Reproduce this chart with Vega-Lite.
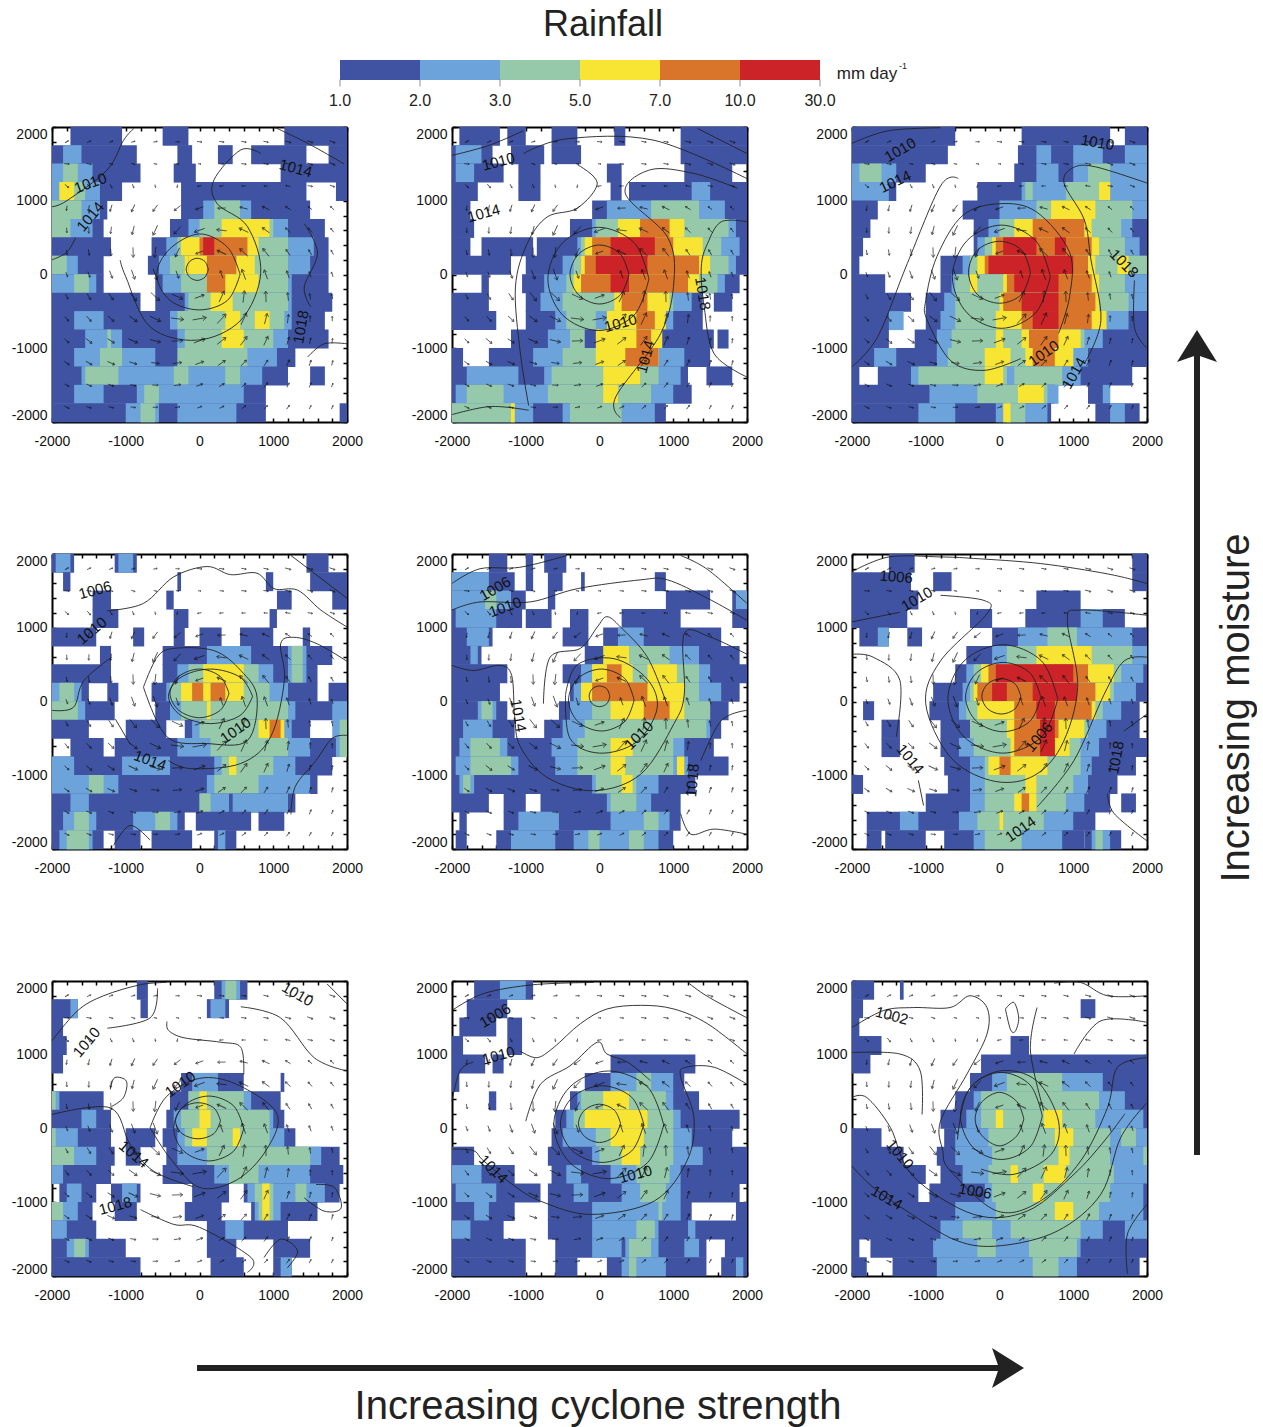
{"$schema":"https://vega.github.io/schema/vega-lite/v6.json","background":"white","padding":{"left":11,"top":7,"right":0,"bottom":0},
"config":{"view":{"stroke":null},"font":"Liberation Sans","axis":{"title":null,"grid":false,"domainWidth":2,"domainColor":"#000","tickColor":"#000","tickSize":-4,"tickWidth":1.5,"labelFontSize":14,"labelColor":"#111","labelOverlap":false,"zindex":1},"axisX":{"labelPadding":16,"labelFlush":false},"axisY":{"labelPadding":9}},
"datasets":{
"w":[{"x":-1800,"y":1800,"a":60,"s":16},{"x":-1200,"y":1800,"a":70,"s":16},{"x":-600,"y":1800,"a":80,"s":16},{"x":0,"y":1800,"a":95,"s":25},{"x":600,"y":1800,"a":100,"s":25},{"x":1200,"y":1800,"a":105,"s":36},{"x":1800,"y":1800,"a":110,"s":36},{"x":-1500,"y":1500,"a":100,"s":25},{"x":-900,"y":1500,"a":110,"s":16},{"x":-300,"y":1500,"a":100,"s":9},{"x":300,"y":1500,"a":95,"s":16},{"x":900,"y":1500,"a":100,"s":25},{"x":1500,"y":1500,"a":110,"s":36},{"x":-1800,"y":1200,"a":130,"s":25},{"x":-1200,"y":1200,"a":150,"s":16},{"x":-600,"y":1200,"a":170,"s":9},{"x":0,"y":1200,"a":-100,"s":16},{"x":600,"y":1200,"a":-90,"s":16},{"x":1200,"y":1200,"a":-80,"s":25},{"x":1800,"y":1200,"a":110,"s":25},{"x":-1500,"y":900,"a":-169,"s":36},{"x":-900,"y":900,"a":-155,"s":64},{"x":-300,"y":900,"a":-128,"s":64},{"x":300,"y":900,"a":-92,"s":64},{"x":900,"y":900,"a":-65,"s":64},{"x":1500,"y":900,"a":-51,"s":25},{"x":-1800,"y":600,"a":178,"s":25},{"x":-1200,"y":600,"a":-173,"s":49},{"x":-600,"y":600,"a":-155,"s":121},{"x":0,"y":600,"a":-110,"s":121},{"x":600,"y":600,"a":-65,"s":100},{"x":1200,"y":600,"a":-47,"s":49},{"x":1800,"y":600,"a":-38,"s":25},{"x":-1500,"y":300,"a":171,"s":36},{"x":-900,"y":300,"a":178,"s":100},{"x":-300,"y":300,"a":-155,"s":100},{"x":300,"y":300,"a":-65,"s":100},{"x":900,"y":300,"a":-38,"s":100},{"x":1500,"y":300,"a":-31,"s":36},{"x":-1800,"y":0,"a":160,"s":25},{"x":-1200,"y":0,"a":160,"s":64},{"x":-600,"y":0,"a":160,"s":144},{"x":600,"y":0,"a":-20,"s":121},{"x":1200,"y":0,"a":-20,"s":64},{"x":1800,"y":0,"a":-20,"s":25},{"x":-1500,"y":-300,"a":149,"s":49},{"x":-900,"y":-300,"a":142,"s":121},{"x":-300,"y":-300,"a":115,"s":144},{"x":300,"y":-300,"a":25,"s":144},{"x":900,"y":-300,"a":-2,"s":121},{"x":1500,"y":-300,"a":-9,"s":36},{"x":-1800,"y":-600,"a":142,"s":36},{"x":-1200,"y":-600,"a":133,"s":64},{"x":-600,"y":-600,"a":115,"s":144},{"x":0,"y":-600,"a":80,"s":196},{"x":600,"y":-600,"a":25,"s":169},{"x":1200,"y":-600,"a":7,"s":81},{"x":1800,"y":-600,"a":-2,"s":25},{"x":-1500,"y":-900,"a":129,"s":64},{"x":-900,"y":-900,"a":115,"s":100},{"x":-300,"y":-900,"a":88,"s":121},{"x":300,"y":-900,"a":52,"s":121},{"x":900,"y":-900,"a":25,"s":100},{"x":1500,"y":-900,"a":11,"s":36},{"x":-1800,"y":-1200,"a":126,"s":36},{"x":-1200,"y":-1200,"a":115,"s":64},{"x":-600,"y":-1200,"a":97,"s":64},{"x":0,"y":-1200,"a":70,"s":81},{"x":600,"y":-1200,"a":43,"s":64},{"x":1200,"y":-1200,"a":25,"s":49},{"x":1800,"y":-1200,"a":14,"s":25},{"x":-1500,"y":-1500,"a":115,"s":36},{"x":-900,"y":-1500,"a":101,"s":36},{"x":-300,"y":-1500,"a":81,"s":49},{"x":300,"y":-1500,"a":59,"s":36},{"x":900,"y":-1500,"a":39,"s":36},{"x":1500,"y":-1500,"a":25,"s":25},{"x":-1800,"y":-1800,"a":115,"s":25},{"x":-1200,"y":-1800,"a":104,"s":25},{"x":-600,"y":-1800,"a":88,"s":25},{"x":0,"y":-1800,"a":70,"s":25},{"x":600,"y":-1800,"a":52,"s":25},{"x":1200,"y":-1800,"a":36,"s":25},{"x":1800,"y":-1800,"a":25,"s":16},{"x":-1500,"y":1800,"a":65,"s":16},{"x":-900,"y":1800,"a":75,"s":16},{"x":-300,"y":1800,"a":90,"s":16},{"x":300,"y":1800,"a":98,"s":25},{"x":900,"y":1800,"a":102,"s":25},{"x":1500,"y":1800,"a":108,"s":36},{"x":-1800,"y":1500,"a":95,"s":25},{"x":-1200,"y":1500,"a":105,"s":16},{"x":-600,"y":1500,"a":105,"s":9},{"x":0,"y":1500,"a":95,"s":9},{"x":600,"y":1500,"a":98,"s":25},{"x":1200,"y":1500,"a":105,"s":36},{"x":1800,"y":1500,"a":112,"s":36},{"x":-1500,"y":1200,"a":140,"s":25},{"x":-900,"y":1200,"a":160,"s":16},{"x":-300,"y":1200,"a":-170,"s":9},{"x":300,"y":1200,"a":-95,"s":16},{"x":900,"y":1200,"a":-85,"s":16},{"x":1500,"y":1200,"a":100,"s":25},{"x":-1800,"y":900,"a":-173,"s":25},{"x":-1200,"y":900,"a":-163,"s":49},{"x":-600,"y":900,"a":-144,"s":64},{"x":0,"y":900,"a":-110,"s":64},{"x":600,"y":900,"a":-76,"s":64},{"x":1200,"y":900,"a":-57,"s":36},{"x":1800,"y":900,"a":-47,"s":25},{"x":-1500,"y":600,"a":-178,"s":36},{"x":-900,"y":600,"a":-166,"s":81},{"x":-300,"y":600,"a":-137,"s":100},{"x":300,"y":600,"a":-83,"s":100},{"x":900,"y":600,"a":-54,"s":81},{"x":1500,"y":600,"a":-42,"s":36},{"x":-1800,"y":300,"a":169,"s":25},{"x":-1200,"y":300,"a":174,"s":49},{"x":-600,"y":300,"a":-173,"s":121},{"x":0,"y":300,"a":-110,"s":64},{"x":600,"y":300,"a":-47,"s":121},{"x":1200,"y":300,"a":-34,"s":49},{"x":1800,"y":300,"a":-29,"s":25},{"x":-1500,"y":0,"a":160,"s":36},{"x":-900,"y":0,"a":160,"s":100},{"x":-300,"y":0,"a":160,"s":64},{"x":300,"y":0,"a":-20,"s":64},{"x":900,"y":0,"a":-20,"s":100},{"x":1500,"y":0,"a":-20,"s":36},{"x":-1800,"y":-300,"a":151,"s":25},{"x":-1200,"y":-300,"a":146,"s":64},{"x":-600,"y":-300,"a":133,"s":144},{"x":0,"y":-300,"a":70,"s":100},{"x":600,"y":-300,"a":7,"s":144},{"x":1200,"y":-300,"a":-6,"s":64},{"x":1800,"y":-300,"a":-11,"s":25},{"x":-1500,"y":-600,"a":138,"s":49},{"x":-900,"y":-600,"a":126,"s":100},{"x":-300,"y":-600,"a":97,"s":169},{"x":300,"y":-600,"a":43,"s":169},{"x":900,"y":-600,"a":14,"s":121},{"x":1500,"y":-600,"a":2,"s":36},{"x":-1800,"y":-900,"a":133,"s":36},{"x":-1200,"y":-900,"a":123,"s":64},{"x":-600,"y":-900,"a":104,"s":121},{"x":0,"y":-900,"a":70,"s":144},{"x":600,"y":-900,"a":36,"s":121},{"x":1200,"y":-900,"a":17,"s":64},{"x":1800,"y":-900,"a":7,"s":25},{"x":-1500,"y":-1200,"a":121,"s":49},{"x":-900,"y":-1200,"a":107,"s":64},{"x":-300,"y":-1200,"a":84,"s":81},{"x":300,"y":-1200,"a":56,"s":81},{"x":900,"y":-1200,"a":33,"s":49},{"x":1500,"y":-1200,"a":19,"s":36},{"x":-1800,"y":-1500,"a":120,"s":25},{"x":-1200,"y":-1500,"a":109,"s":36},{"x":-600,"y":-1500,"a":92,"s":36},{"x":0,"y":-1500,"a":70,"s":49},{"x":600,"y":-1500,"a":48,"s":36},{"x":1200,"y":-1500,"a":31,"s":25},{"x":1800,"y":-1500,"a":20,"s":16},{"x":-1500,"y":-1800,"a":110,"s":25},{"x":-900,"y":-1800,"a":97,"s":25},{"x":-300,"y":-1800,"a":79,"s":25},{"x":300,"y":-1800,"a":61,"s":25},{"x":900,"y":-1800,"a":43,"s":25},{"x":1500,"y":-1800,"a":30,"s":16}],
"p1":[{"y":1875,"a":-1750,"b":-1050,"v":1},{"y":1875,"a":-500,"b":-150,"v":1},{"y":1875,"a":1150,"b":2000,"v":1},{"y":1625,"a":-2000,"b":-850,"v":1},{"y":1625,"a":-1850,"b":-1600,"v":2},{"y":1625,"a":-300,"b":-100,"v":1},{"y":1625,"a":250,"b":450,"v":1},{"y":1625,"a":700,"b":1450,"v":1},{"y":1625,"a":1750,"b":2000,"v":1},{"y":1375,"a":-2000,"b":-800,"v":1},{"y":1375,"a":-2000,"b":-1450,"v":2},{"y":1375,"a":-1850,"b":-1650,"v":3},{"y":1375,"a":-350,"b":-50,"v":1},{"y":1375,"a":1100,"b":2000,"v":1},{"y":1125,"a":-2000,"b":-1050,"v":1},{"y":1125,"a":-2000,"b":-1350,"v":2},{"y":1125,"a":-1900,"b":-1550,"v":3},{"y":1125,"a":-1900,"b":-1700,"v":4},{"y":1125,"a":-250,"b":1450,"v":1},{"y":1125,"a":1850,"b":2000,"v":1},{"y":875,"a":-2000,"b":-1250,"v":1},{"y":875,"a":-2000,"b":-1350,"v":2},{"y":875,"a":-2000,"b":-1600,"v":3},{"y":875,"a":-250,"b":1500,"v":1},{"y":875,"a":50,"b":700,"v":2},{"y":875,"a":200,"b":550,"v":3},{"y":625,"a":-2000,"b":-1300,"v":1},{"y":625,"a":-2000,"b":-1450,"v":2},{"y":625,"a":-2000,"b":-1750,"v":3},{"y":625,"a":-400,"b":1700,"v":1},{"y":625,"a":-150,"b":1200,"v":2},{"y":625,"a":0,"b":1000,"v":3},{"y":625,"a":300,"b":950,"v":4},{"y":375,"a":-2000,"b":-1200,"v":1},{"y":375,"a":-650,"b":1750,"v":1},{"y":375,"a":-450,"b":1550,"v":2},{"y":375,"a":-300,"b":1200,"v":3},{"y":375,"a":-250,"b":800,"v":4},{"y":375,"a":0,"b":650,"v":5},{"y":375,"a":50,"b":200,"v":6},{"y":125,"a":-2000,"b":-1300,"v":1},{"y":125,"a":-2000,"b":-1650,"v":2},{"y":125,"a":-2000,"b":-1800,"v":3},{"y":125,"a":-700,"b":1750,"v":1},{"y":125,"a":-550,"b":1500,"v":2},{"y":125,"a":-400,"b":1200,"v":3},{"y":125,"a":-200,"b":750,"v":4},{"y":125,"a":-150,"b":500,"v":5},{"y":125,"a":-150,"b":100,"v":4},{"y":-125,"a":-2000,"b":-1300,"v":1},{"y":-125,"a":-2000,"b":-1400,"v":2},{"y":-125,"a":-1700,"b":-1500,"v":3},{"y":-125,"a":-600,"b":1750,"v":1},{"y":-125,"a":-500,"b":1250,"v":2},{"y":-125,"a":-250,"b":1200,"v":3},{"y":-125,"a":100,"b":800,"v":4},{"y":-125,"a":100,"b":350,"v":5},{"y":-375,"a":-2000,"b":-800,"v":1},{"y":-375,"a":-600,"b":1800,"v":1},{"y":-375,"a":-200,"b":1250,"v":2},{"y":-375,"a":-150,"b":1200,"v":3},{"y":-375,"a":150,"b":450,"v":4},{"y":-625,"a":-2000,"b":1700,"v":1},{"y":-625,"a":-1700,"b":-1300,"v":2},{"y":-625,"a":-400,"b":1250,"v":2},{"y":-625,"a":-300,"b":1150,"v":3},{"y":-625,"a":350,"b":550,"v":4},{"y":-625,"a":750,"b":950,"v":4},{"y":-875,"a":-2000,"b":1750,"v":1},{"y":-875,"a":-1550,"b":-1050,"v":2},{"y":-875,"a":-1250,"b":-1200,"v":3},{"y":-875,"a":-300,"b":1200,"v":2},{"y":-875,"a":-200,"b":1000,"v":3},{"y":-875,"a":300,"b":600,"v":4},{"y":-1125,"a":-2000,"b":1300,"v":1},{"y":-1125,"a":-1700,"b":-600,"v":2},{"y":-1125,"a":-1350,"b":-1050,"v":3},{"y":-1125,"a":-250,"b":1050,"v":2},{"y":-1125,"a":-300,"b":650,"v":3},{"y":-1375,"a":-2000,"b":1200,"v":1},{"y":-1375,"a":1500,"b":1700,"v":1},{"y":-1375,"a":-1600,"b":850,"v":2},{"y":-1375,"a":-1550,"b":-1100,"v":3},{"y":-1375,"a":-350,"b":-150,"v":3},{"y":-1375,"a":350,"b":550,"v":3},{"y":-1625,"a":-2000,"b":900,"v":1},{"y":-1625,"a":-1700,"b":-1300,"v":2},{"y":-1625,"a":-850,"b":600,"v":2},{"y":-1625,"a":-750,"b":-550,"v":3},{"y":-1875,"a":-2000,"b":900,"v":1},{"y":-1875,"a":1900,"b":2000,"v":1},{"y":-1875,"a":-1000,"b":-550,"v":2},{"y":-1875,"a":-300,"b":500,"v":2},{"y":-1875,"a":-800,"b":-600,"v":3}],
"p2":[{"y":1875,"a":-1900,"b":-1350,"v":1},{"y":1875,"a":-1250,"b":-1000,"v":1},{"y":1875,"a":-650,"b":-300,"v":1},{"y":1875,"a":200,"b":350,"v":1},{"y":1875,"a":1100,"b":2000,"v":1},{"y":1625,"a":-2000,"b":-1450,"v":1},{"y":1625,"a":-1950,"b":-1600,"v":2},{"y":1625,"a":-1200,"b":-750,"v":1},{"y":1625,"a":-650,"b":-250,"v":1},{"y":1625,"a":1100,"b":2000,"v":1},{"y":1375,"a":-2000,"b":-1300,"v":1},{"y":1375,"a":-1950,"b":-1700,"v":2},{"y":1375,"a":-1100,"b":-800,"v":1},{"y":1375,"a":100,"b":300,"v":1},{"y":1375,"a":1150,"b":1800,"v":1},{"y":1125,"a":-2000,"b":-1650,"v":1},{"y":1125,"a":-1100,"b":-800,"v":1},{"y":1125,"a":150,"b":300,"v":1},{"y":1125,"a":400,"b":2000,"v":1},{"y":1125,"a":1250,"b":1500,"v":2},{"y":875,"a":-2000,"b":-1750,"v":1},{"y":875,"a":-100,"b":2000,"v":1},{"y":875,"a":100,"b":1700,"v":2},{"y":875,"a":700,"b":1350,"v":3},{"y":625,"a":-2000,"b":-1700,"v":1},{"y":625,"a":-400,"b":2000,"v":1},{"y":625,"a":-100,"b":1850,"v":2},{"y":625,"a":-50,"b":1750,"v":3},{"y":625,"a":250,"b":1150,"v":4},{"y":625,"a":550,"b":950,"v":5},{"y":375,"a":-2000,"b":-1750,"v":1},{"y":375,"a":-1600,"b":-900,"v":1},{"y":375,"a":-850,"b":2000,"v":1},{"y":375,"a":-300,"b":1900,"v":2},{"y":375,"a":-250,"b":1650,"v":3},{"y":375,"a":-200,"b":1400,"v":4},{"y":375,"a":-100,"b":1000,"v":5},{"y":375,"a":150,"b":750,"v":6},{"y":125,"a":-2000,"b":-1200,"v":1},{"y":125,"a":-1000,"b":2000,"v":1},{"y":125,"a":-500,"b":1850,"v":2},{"y":125,"a":-350,"b":1750,"v":3},{"y":125,"a":-250,"b":1500,"v":4},{"y":125,"a":-200,"b":1350,"v":5},{"y":125,"a":-50,"b":650,"v":6},{"y":-125,"a":-1600,"b":-1500,"v":1},{"y":-125,"a":-1050,"b":1900,"v":1},{"y":-125,"a":-750,"b":1700,"v":2},{"y":-125,"a":-450,"b":1600,"v":3},{"y":-125,"a":-350,"b":1350,"v":4},{"y":-125,"a":-250,"b":1200,"v":5},{"y":-125,"a":150,"b":400,"v":6},{"y":-375,"a":-2000,"b":-1500,"v":1},{"y":-375,"a":-1000,"b":1400,"v":1},{"y":-375,"a":1550,"b":1800,"v":1},{"y":-375,"a":-800,"b":1250,"v":2},{"y":-375,"a":-500,"b":1000,"v":3},{"y":-375,"a":200,"b":950,"v":4},{"y":-375,"a":300,"b":650,"v":5},{"y":-625,"a":-2000,"b":-1400,"v":1},{"y":-625,"a":-1000,"b":1400,"v":1},{"y":-625,"a":-600,"b":1000,"v":2},{"y":-625,"a":-450,"b":850,"v":3},{"y":-625,"a":100,"b":900,"v":4},{"y":-625,"a":500,"b":750,"v":5},{"y":-625,"a":-50,"b":100,"v":2},{"y":-875,"a":-1200,"b":1550,"v":1},{"y":-875,"a":1600,"b":1750,"v":1},{"y":-875,"a":-700,"b":850,"v":2},{"y":-875,"a":-400,"b":750,"v":3},{"y":-875,"a":-100,"b":850,"v":4},{"y":-875,"a":500,"b":700,"v":5},{"y":-875,"a":-200,"b":-50,"v":1},{"y":-1125,"a":-2000,"b":-1850,"v":1},{"y":-1125,"a":-1500,"b":1500,"v":1},{"y":-1125,"a":-900,"b":1150,"v":2},{"y":-1125,"a":-500,"b":800,"v":3},{"y":-1125,"a":-50,"b":800,"v":4},{"y":-1125,"a":350,"b":800,"v":5},{"y":-1375,"a":-2000,"b":1200,"v":1},{"y":-1375,"a":1450,"b":1800,"v":1},{"y":-1375,"a":-1800,"b":-1100,"v":2},{"y":-1375,"a":-750,"b":1100,"v":2},{"y":-1375,"a":-650,"b":800,"v":3},{"y":-1375,"a":50,"b":550,"v":4},{"y":-1625,"a":-2000,"b":1250,"v":1},{"y":-1625,"a":-1950,"b":1000,"v":2},{"y":-1625,"a":-1800,"b":-1300,"v":3},{"y":-1625,"a":-700,"b":700,"v":3},{"y":-1625,"a":50,"b":250,"v":4},{"y":-1875,"a":-2000,"b":900,"v":1},{"y":-1875,"a":-2000,"b":-900,"v":2},{"y":-1875,"a":-500,"b":750,"v":2},{"y":-1875,"a":-2000,"b":-1150,"v":3},{"y":-1875,"a":-400,"b":300,"v":3},{"y":-1875,"a":-1200,"b":-1150,"v":4}],
"p3":[{"y":1875,"a":-2000,"b":-600,"v":1},{"y":1875,"a":300,"b":1500,"v":1},{"y":1875,"a":1700,"b":2000,"v":1},{"y":1625,"a":-2000,"b":-700,"v":1},{"y":1625,"a":250,"b":2000,"v":1},{"y":1625,"a":500,"b":700,"v":2},{"y":1625,"a":1000,"b":1400,"v":2},{"y":1625,"a":1700,"b":2000,"v":2},{"y":1375,"a":-2000,"b":-1000,"v":1},{"y":1375,"a":-2000,"b":-1400,"v":2},{"y":1375,"a":-1900,"b":-1600,"v":3},{"y":1375,"a":200,"b":2000,"v":1},{"y":1375,"a":500,"b":800,"v":2},{"y":1375,"a":1000,"b":2000,"v":2},{"y":1375,"a":1200,"b":1500,"v":3},{"y":1125,"a":-2000,"b":-1400,"v":1},{"y":1125,"a":-2000,"b":-1500,"v":2},{"y":1125,"a":-300,"b":2000,"v":1},{"y":1125,"a":300,"b":2000,"v":2},{"y":1125,"a":350,"b":450,"v":3},{"y":1125,"a":900,"b":1500,"v":3},{"y":1125,"a":1350,"b":1500,"v":4},{"y":875,"a":-2000,"b":-1650,"v":1},{"y":875,"a":-500,"b":2000,"v":1},{"y":875,"a":0,"b":2000,"v":2},{"y":875,"a":500,"b":1800,"v":3},{"y":875,"a":700,"b":1300,"v":4},{"y":625,"a":-2000,"b":-1750,"v":1},{"y":625,"a":-350,"b":2000,"v":1},{"y":625,"a":-150,"b":1800,"v":2},{"y":625,"a":0,"b":1650,"v":3},{"y":625,"a":200,"b":1250,"v":4},{"y":625,"a":450,"b":1150,"v":5},{"y":375,"a":-2000,"b":-1850,"v":1},{"y":375,"a":-350,"b":2000,"v":1},{"y":375,"a":-300,"b":1900,"v":2},{"y":375,"a":-200,"b":1700,"v":3},{"y":375,"a":-100,"b":1350,"v":4},{"y":375,"a":-50,"b":1250,"v":5},{"y":375,"a":50,"b":500,"v":6},{"y":375,"a":750,"b":900,"v":6},{"y":125,"a":-2000,"b":-1900,"v":1},{"y":125,"a":-800,"b":2000,"v":1},{"y":125,"a":-500,"b":2000,"v":2},{"y":125,"a":-400,"b":2000,"v":3},{"y":125,"a":-300,"b":1300,"v":4},{"y":125,"a":1600,"b":1750,"v":4},{"y":125,"a":-200,"b":1200,"v":5},{"y":125,"a":-150,"b":1000,"v":6},{"y":-125,"a":-2000,"b":-1550,"v":1},{"y":-125,"a":-800,"b":2000,"v":1},{"y":-125,"a":-650,"b":2000,"v":2},{"y":-125,"a":-600,"b":1700,"v":3},{"y":-125,"a":-400,"b":-300,"v":4},{"y":-125,"a":50,"b":1350,"v":4},{"y":-125,"a":100,"b":1250,"v":5},{"y":-125,"a":200,"b":800,"v":6},{"y":-375,"a":-2000,"b":-1200,"v":1},{"y":-375,"a":-1000,"b":2000,"v":1},{"y":-375,"a":-750,"b":2000,"v":2},{"y":-375,"a":-600,"b":1750,"v":3},{"y":-375,"a":0,"b":1350,"v":4},{"y":-375,"a":50,"b":1300,"v":5},{"y":-375,"a":300,"b":800,"v":6},{"y":-625,"a":-2000,"b":-1400,"v":1},{"y":-625,"a":-1500,"b":-1300,"v":2},{"y":-625,"a":-1000,"b":2000,"v":1},{"y":-625,"a":-800,"b":1750,"v":2},{"y":-625,"a":-600,"b":1450,"v":3},{"y":-625,"a":-50,"b":1450,"v":4},{"y":-625,"a":300,"b":1250,"v":5},{"y":-625,"a":450,"b":800,"v":6},{"y":-875,"a":-2000,"b":-1500,"v":1},{"y":-875,"a":-1150,"b":2000,"v":1},{"y":-875,"a":-850,"b":1400,"v":2},{"y":-875,"a":-650,"b":1150,"v":3},{"y":-875,"a":-50,"b":50,"v":4},{"y":-875,"a":300,"b":1100,"v":4},{"y":-875,"a":400,"b":800,"v":5},{"y":-1125,"a":-2000,"b":2000,"v":1},{"y":-1125,"a":-1700,"b":-1400,"v":2},{"y":-1125,"a":-850,"b":1200,"v":2},{"y":-1125,"a":-700,"b":1000,"v":3},{"y":-1125,"a":-200,"b":150,"v":4},{"y":-1125,"a":350,"b":1000,"v":4},{"y":-1125,"a":450,"b":750,"v":5},{"y":-1375,"a":-2000,"b":-1900,"v":1},{"y":-1375,"a":-1650,"b":1800,"v":1},{"y":-1375,"a":-1200,"b":1100,"v":2},{"y":-1375,"a":-1100,"b":850,"v":3},{"y":-1375,"a":-200,"b":50,"v":4},{"y":-1375,"a":100,"b":200,"v":2},{"y":-1625,"a":-2000,"b":750,"v":1},{"y":-1625,"a":-950,"b":800,"v":2},{"y":-1625,"a":-300,"b":650,"v":3},{"y":-1625,"a":250,"b":600,"v":4},{"y":-1625,"a":1200,"b":1500,"v":1},{"y":-1625,"a":1400,"b":1500,"v":2},{"y":-1875,"a":-2000,"b":700,"v":1},{"y":-1875,"a":-1100,"b":-600,"v":2},{"y":-1875,"a":-50,"b":650,"v":2},{"y":-1875,"a":100,"b":350,"v":3},{"y":-1875,"a":50,"b":150,"v":4},{"y":-1875,"a":1300,"b":1900,"v":1},{"y":-1875,"a":1500,"b":1700,"v":2}],
"p4":[{"y":1875,"a":-2000,"b":-1700,"v":1},{"y":1875,"a":-1950,"b":-1750,"v":2},{"y":1875,"a":-1150,"b":-850,"v":1},{"y":1875,"a":-1100,"b":-900,"v":2},{"y":1875,"a":1450,"b":1750,"v":1},{"y":1625,"a":-1850,"b":-1750,"v":1},{"y":1625,"a":-300,"b":-250,"v":1},{"y":1625,"a":900,"b":1000,"v":1},{"y":1625,"a":1500,"b":2000,"v":1},{"y":1375,"a":-1450,"b":-1200,"v":1},{"y":1375,"a":-450,"b":-350,"v":1},{"y":1375,"a":1050,"b":1250,"v":1},{"y":1375,"a":1800,"b":2000,"v":1},{"y":1125,"a":-1450,"b":-1100,"v":1},{"y":1125,"a":-350,"b":-150,"v":1},{"y":1125,"a":950,"b":1050,"v":1},{"y":875,"a":-2000,"b":-1400,"v":1},{"y":875,"a":-900,"b":-750,"v":1},{"y":875,"a":-350,"b":-200,"v":1},{"y":875,"a":0,"b":300,"v":1},{"y":875,"a":550,"b":1000,"v":1},{"y":875,"a":1400,"b":1500,"v":1},{"y":625,"a":-1350,"b":-1200,"v":1},{"y":625,"a":-500,"b":1250,"v":1},{"y":625,"a":100,"b":700,"v":2},{"y":625,"a":1150,"b":1800,"v":1},{"y":625,"a":1200,"b":1450,"v":2},{"y":625,"a":1250,"b":1400,"v":3},{"y":375,"a":-2000,"b":-1200,"v":1},{"y":375,"a":-500,"b":1600,"v":1},{"y":375,"a":-300,"b":1000,"v":2},{"y":375,"a":-150,"b":800,"v":3},{"y":375,"a":50,"b":600,"v":4},{"y":375,"a":1200,"b":1450,"v":2},{"y":375,"a":1250,"b":1400,"v":3},{"y":125,"a":-2000,"b":-1500,"v":1},{"y":125,"a":-2000,"b":-1600,"v":2},{"y":125,"a":-1900,"b":-1700,"v":3},{"y":125,"a":-1250,"b":-1100,"v":1},{"y":125,"a":-650,"b":1600,"v":1},{"y":125,"a":-450,"b":1200,"v":2},{"y":125,"a":-400,"b":950,"v":3},{"y":125,"a":-250,"b":600,"v":4},{"y":125,"a":-100,"b":50,"v":5},{"y":125,"a":150,"b":350,"v":5},{"y":125,"a":1750,"b":2000,"v":1},{"y":-125,"a":-2000,"b":-1150,"v":1},{"y":-125,"a":-2000,"b":-1550,"v":2},{"y":-125,"a":-2000,"b":-1650,"v":3},{"y":-125,"a":-600,"b":2000,"v":1},{"y":-125,"a":-400,"b":1300,"v":2},{"y":-125,"a":-250,"b":1200,"v":3},{"y":-125,"a":100,"b":150,"v":4},{"y":-125,"a":1800,"b":2000,"v":2},{"y":-375,"a":-2000,"b":-1500,"v":1},{"y":-375,"a":-1000,"b":-450,"v":1},{"y":-375,"a":-200,"b":1500,"v":1},{"y":-375,"a":-100,"b":1250,"v":2},{"y":-375,"a":0,"b":1100,"v":3},{"y":-375,"a":800,"b":1150,"v":4},{"y":-375,"a":950,"b":1100,"v":5},{"y":-375,"a":1800,"b":2000,"v":2},{"y":-375,"a":1900,"b":2000,"v":3},{"y":-625,"a":-1750,"b":-1300,"v":1},{"y":-625,"a":-1150,"b":2000,"v":1},{"y":-625,"a":-300,"b":1500,"v":2},{"y":-625,"a":150,"b":1200,"v":3},{"y":-625,"a":1850,"b":2000,"v":2},{"y":-625,"a":1900,"b":2000,"v":3},{"y":-875,"a":-2000,"b":1800,"v":1},{"y":-875,"a":-2000,"b":-1700,"v":2},{"y":-875,"a":-1050,"b":-400,"v":2},{"y":-875,"a":200,"b":1300,"v":2},{"y":-875,"a":300,"b":1000,"v":3},{"y":-875,"a":400,"b":500,"v":4},{"y":-1125,"a":-2000,"b":1600,"v":1},{"y":-1125,"a":-2000,"b":-1100,"v":2},{"y":-1125,"a":-1500,"b":-1300,"v":3},{"y":-1125,"a":100,"b":1500,"v":2},{"y":-1125,"a":200,"b":800,"v":3},{"y":-1375,"a":-2000,"b":1300,"v":1},{"y":-1375,"a":-1750,"b":-1500,"v":2},{"y":-1375,"a":0,"b":400,"v":2},{"y":-1375,"a":0,"b":150,"v":3},{"y":-1375,"a":450,"b":1200,"v":2},{"y":-1625,"a":-2000,"b":-200,"v":1},{"y":-1625,"a":-1850,"b":-1400,"v":2},{"y":-1625,"a":-1700,"b":-1500,"v":3},{"y":-1625,"a":-900,"b":-300,"v":2},{"y":-1625,"a":-600,"b":-400,"v":3},{"y":-1625,"a":-50,"b":700,"v":1},{"y":-1625,"a":800,"b":1150,"v":1},{"y":-1875,"a":-2000,"b":-1300,"v":1},{"y":-1875,"a":-1900,"b":-1450,"v":2},{"y":-1875,"a":-1800,"b":-1500,"v":3},{"y":-1875,"a":-1150,"b":-800,"v":1},{"y":-1875,"a":-650,"b":-100,"v":1},{"y":-1875,"a":200,"b":500,"v":1},{"y":-1875,"a":250,"b":350,"v":2}],
"p5":[{"y":1875,"a":-1500,"b":-1250,"v":1},{"y":1875,"a":-1000,"b":-900,"v":1},{"y":1875,"a":-750,"b":-450,"v":1},{"y":1625,"a":-2000,"b":-1150,"v":1},{"y":1625,"a":-2000,"b":-1500,"v":2},{"y":1625,"a":-1000,"b":-900,"v":1},{"y":1625,"a":-700,"b":-500,"v":1},{"y":1625,"a":-250,"b":-200,"v":1},{"y":1625,"a":750,"b":900,"v":1},{"y":1375,"a":-2000,"b":-1000,"v":1},{"y":1375,"a":-2000,"b":-1200,"v":2},{"y":1375,"a":-1550,"b":-1400,"v":3},{"y":1375,"a":-700,"b":-600,"v":1},{"y":1375,"a":900,"b":1500,"v":1},{"y":1375,"a":1800,"b":2000,"v":1},{"y":1375,"a":1850,"b":2000,"v":2},{"y":1125,"a":-2000,"b":-1050,"v":1},{"y":1125,"a":-1950,"b":-1400,"v":2},{"y":1125,"a":-1000,"b":-650,"v":1},{"y":1125,"a":-400,"b":-150,"v":1},{"y":1125,"a":300,"b":1100,"v":1},{"y":1125,"a":1800,"b":2000,"v":1},{"y":875,"a":-2000,"b":-1450,"v":1},{"y":875,"a":-1800,"b":-1500,"v":2},{"y":875,"a":-500,"b":-150,"v":1},{"y":875,"a":50,"b":1650,"v":1},{"y":875,"a":250,"b":600,"v":2},{"y":625,"a":-2000,"b":-1600,"v":1},{"y":625,"a":-1750,"b":-1650,"v":2},{"y":625,"a":-200,"b":1900,"v":1},{"y":625,"a":100,"b":1350,"v":2},{"y":625,"a":250,"b":950,"v":3},{"y":625,"a":50,"b":400,"v":4},{"y":375,"a":-2000,"b":-1250,"v":1},{"y":375,"a":-500,"b":2000,"v":1},{"y":375,"a":-250,"b":1500,"v":2},{"y":375,"a":-100,"b":1350,"v":3},{"y":375,"a":-100,"b":450,"v":4},{"y":375,"a":650,"b":1050,"v":4},{"y":375,"a":100,"b":300,"v":5},{"y":125,"a":-2000,"b":-1350,"v":1},{"y":125,"a":-400,"b":1900,"v":1},{"y":125,"a":-350,"b":1650,"v":2},{"y":125,"a":-250,"b":1350,"v":3},{"y":125,"a":-250,"b":1150,"v":4},{"y":125,"a":-100,"b":650,"v":5},{"y":-125,"a":-2000,"b":-1250,"v":1},{"y":-125,"a":-1650,"b":-1400,"v":2},{"y":-125,"a":-1600,"b":-1450,"v":3},{"y":-125,"a":-550,"b":1750,"v":1},{"y":-125,"a":-400,"b":1500,"v":2},{"y":-125,"a":-100,"b":1500,"v":3},{"y":-125,"a":150,"b":1150,"v":4},{"y":-125,"a":600,"b":950,"v":5},{"y":-375,"a":-2000,"b":-1150,"v":1},{"y":-375,"a":-1850,"b":-1450,"v":2},{"y":-375,"a":-750,"b":1650,"v":1},{"y":-375,"a":-500,"b":1500,"v":2},{"y":-375,"a":-200,"b":1450,"v":3},{"y":-625,"a":-2000,"b":1550,"v":1},{"y":-625,"a":-1900,"b":-1250,"v":2},{"y":-625,"a":-1750,"b":-1350,"v":3},{"y":-625,"a":-650,"b":1150,"v":2},{"y":-625,"a":-300,"b":1000,"v":3},{"y":-625,"a":150,"b":450,"v":4},{"y":-875,"a":-2000,"b":1750,"v":1},{"y":-875,"a":-1950,"b":-1100,"v":2},{"y":-875,"a":-1750,"b":-1200,"v":3},{"y":-875,"a":-600,"b":1200,"v":2},{"y":-875,"a":-300,"b":1000,"v":3},{"y":-875,"a":150,"b":350,"v":4},{"y":-875,"a":1050,"b":1150,"v":4},{"y":-1125,"a":-2000,"b":1300,"v":1},{"y":-1125,"a":-1900,"b":-1700,"v":2},{"y":-1125,"a":-1850,"b":-1750,"v":3},{"y":-1125,"a":-100,"b":800,"v":2},{"y":-1125,"a":-50,"b":500,"v":3},{"y":-1125,"a":300,"b":450,"v":4},{"y":-1375,"a":-2000,"b":-1500,"v":1},{"y":-1375,"a":-1300,"b":-1000,"v":1},{"y":-1375,"a":-800,"b":1100,"v":1},{"y":-1375,"a":100,"b":700,"v":2},{"y":-1375,"a":150,"b":500,"v":3},{"y":-1625,"a":-1900,"b":-1800,"v":1},{"y":-1625,"a":-1300,"b":1100,"v":1},{"y":-1625,"a":-1100,"b":-550,"v":2},{"y":-1625,"a":150,"b":950,"v":2},{"y":-1625,"a":600,"b":800,"v":3},{"y":-1875,"a":-1950,"b":-1800,"v":1},{"y":-1875,"a":-1400,"b":1000,"v":1},{"y":-1875,"a":-1200,"b":-600,"v":2},{"y":-1875,"a":-350,"b":800,"v":2},{"y":-1875,"a":-150,"b":0,"v":3},{"y":-1875,"a":400,"b":600,"v":3}],
"p6":[{"y":1875,"a":-1500,"b":-1150,"v":1},{"y":1875,"a":1800,"b":2000,"v":1},{"y":1625,"a":-2000,"b":-1200,"v":1},{"y":1625,"a":-900,"b":-650,"v":1},{"y":1625,"a":1800,"b":2000,"v":1},{"y":1375,"a":-2000,"b":-1100,"v":1},{"y":1375,"a":500,"b":1100,"v":1},{"y":1125,"a":-2000,"b":-1250,"v":1},{"y":1125,"a":-400,"b":-100,"v":1},{"y":1125,"a":350,"b":1700,"v":1},{"y":1125,"a":1100,"b":1400,"v":2},{"y":875,"a":-1900,"b":-1500,"v":1},{"y":875,"a":-1650,"b":-1500,"v":2},{"y":875,"a":-1250,"b":-1050,"v":1},{"y":875,"a":-100,"b":2000,"v":1},{"y":875,"a":250,"b":1800,"v":2},{"y":875,"a":650,"b":1050,"v":3},{"y":625,"a":-450,"b":2000,"v":1},{"y":625,"a":-100,"b":2000,"v":2},{"y":625,"a":100,"b":1800,"v":3},{"y":625,"a":500,"b":1250,"v":4},{"y":375,"a":-600,"b":2000,"v":1},{"y":375,"a":-450,"b":1950,"v":2},{"y":375,"a":-350,"b":1650,"v":3},{"y":375,"a":-250,"b":1550,"v":4},{"y":375,"a":-150,"b":1200,"v":5},{"y":375,"a":-50,"b":1000,"v":6},{"y":125,"a":-900,"b":2000,"v":1},{"y":125,"a":-500,"b":1850,"v":2},{"y":125,"a":-400,"b":1550,"v":3},{"y":125,"a":-350,"b":1500,"v":4},{"y":125,"a":-300,"b":1300,"v":5},{"y":125,"a":-100,"b":100,"v":6},{"y":125,"a":450,"b":1050,"v":6},{"y":-125,"a":-1850,"b":-1700,"v":1},{"y":-125,"a":-950,"b":1900,"v":1},{"y":-125,"a":-550,"b":1650,"v":2},{"y":-125,"a":-450,"b":1400,"v":3},{"y":-125,"a":-300,"b":1300,"v":4},{"y":-125,"a":200,"b":1250,"v":5},{"y":-125,"a":500,"b":750,"v":6},{"y":-375,"a":-1600,"b":-1350,"v":1},{"y":-375,"a":-800,"b":1900,"v":1},{"y":-375,"a":-350,"b":1450,"v":2},{"y":-375,"a":-400,"b":1200,"v":3},{"y":-375,"a":100,"b":1150,"v":4},{"y":-375,"a":200,"b":800,"v":5},{"y":-375,"a":550,"b":750,"v":6},{"y":-625,"a":-1600,"b":-1350,"v":1},{"y":-625,"a":-800,"b":2000,"v":1},{"y":-625,"a":-550,"b":1350,"v":2},{"y":-625,"a":-350,"b":1100,"v":3},{"y":-625,"a":150,"b":950,"v":4},{"y":-625,"a":200,"b":750,"v":5},{"y":-625,"a":550,"b":750,"v":6},{"y":-875,"a":-750,"b":1850,"v":1},{"y":-875,"a":-400,"b":1250,"v":2},{"y":-875,"a":-200,"b":1100,"v":3},{"y":-875,"a":-150,"b":650,"v":4},{"y":-875,"a":0,"b":150,"v":5},{"y":-1125,"a":-2000,"b":-1850,"v":1},{"y":-1125,"a":-700,"b":1600,"v":1},{"y":-1125,"a":-400,"b":1200,"v":2},{"y":-1125,"a":-200,"b":1000,"v":3},{"y":-1125,"a":350,"b":500,"v":4},{"y":-1375,"a":-1000,"b":1500,"v":1},{"y":-1375,"a":1650,"b":1850,"v":1},{"y":-1375,"a":-400,"b":1150,"v":2},{"y":-1375,"a":-200,"b":900,"v":3},{"y":-1375,"a":200,"b":500,"v":4},{"y":-1375,"a":300,"b":400,"v":5},{"y":-1625,"a":-1800,"b":1300,"v":1},{"y":-1625,"a":-1350,"b":-1100,"v":2},{"y":-1625,"a":-550,"b":1000,"v":2},{"y":-1625,"a":-300,"b":600,"v":3},{"y":-1625,"a":0,"b":50,"v":4},{"y":-1875,"a":-1800,"b":-1600,"v":1},{"y":-1875,"a":-1550,"b":-1000,"v":1},{"y":-1875,"a":-750,"b":1150,"v":1},{"y":-1875,"a":-350,"b":850,"v":2},{"y":-1875,"a":-200,"b":300,"v":3},{"y":-1875,"a":1150,"b":1650,"v":1},{"y":-1875,"a":1250,"b":1500,"v":2},{"y":-1875,"a":1300,"b":1400,"v":3}],
"p7":[{"y":1875,"a":-850,"b":-700,"v":1},{"y":1875,"a":200,"b":650,"v":1},{"y":1875,"a":300,"b":550,"v":2},{"y":1875,"a":350,"b":500,"v":3},{"y":1625,"a":-2000,"b":-1650,"v":1},{"y":1625,"a":-1750,"b":-1650,"v":2},{"y":1625,"a":-800,"b":-700,"v":1},{"y":1625,"a":100,"b":400,"v":1},{"y":1625,"a":150,"b":350,"v":2},{"y":1375,"a":-2000,"b":-1850,"v":1},{"y":1125,"a":-2000,"b":-1800,"v":1},{"y":875,"a":-2000,"b":-1850,"v":1},{"y":625,"a":-250,"b":600,"v":1},{"y":625,"a":-100,"b":250,"v":2},{"y":625,"a":1100,"b":1150,"v":1},{"y":375,"a":-2000,"b":-1300,"v":1},{"y":375,"a":-2000,"b":-1900,"v":2},{"y":375,"a":-2000,"b":-1950,"v":3},{"y":375,"a":-400,"b":1100,"v":1},{"y":375,"a":-150,"b":700,"v":2},{"y":375,"a":-150,"b":600,"v":3},{"y":375,"a":0,"b":100,"v":4},{"y":125,"a":-2000,"b":-1200,"v":1},{"y":125,"a":-1600,"b":-1400,"v":2},{"y":125,"a":-450,"b":1150,"v":1},{"y":125,"a":-350,"b":1000,"v":2},{"y":125,"a":-250,"b":950,"v":3},{"y":125,"a":0,"b":150,"v":4},{"y":-125,"a":-2000,"b":-1200,"v":1},{"y":-125,"a":-2000,"b":-1650,"v":2},{"y":-125,"a":-2000,"b":-1950,"v":3},{"y":-125,"a":-1000,"b":-600,"v":1},{"y":-125,"a":-500,"b":1300,"v":1},{"y":-125,"a":-300,"b":1150,"v":2},{"y":-125,"a":-200,"b":950,"v":3},{"y":-125,"a":-100,"b":100,"v":4},{"y":-125,"a":450,"b":550,"v":4},{"y":-375,"a":-2000,"b":-1150,"v":1},{"y":-375,"a":-2000,"b":-1400,"v":2},{"y":-375,"a":-2000,"b":-1700,"v":3},{"y":-375,"a":-1000,"b":-800,"v":1},{"y":-375,"a":-450,"b":1900,"v":1},{"y":-375,"a":-300,"b":1650,"v":2},{"y":-375,"a":100,"b":1500,"v":3},{"y":-625,"a":-2000,"b":-1200,"v":1},{"y":-625,"a":-2000,"b":-1850,"v":2},{"y":-625,"a":-500,"b":1950,"v":1},{"y":-625,"a":200,"b":1500,"v":2},{"y":-625,"a":400,"b":800,"v":3},{"y":-875,"a":-1900,"b":-1400,"v":1},{"y":-875,"a":-1800,"b":-1600,"v":2},{"y":-875,"a":-1200,"b":-800,"v":1},{"y":-875,"a":-1050,"b":-850,"v":2},{"y":-875,"a":-100,"b":400,"v":1},{"y":-875,"a":600,"b":1900,"v":1},{"y":-875,"a":650,"b":1700,"v":2},{"y":-875,"a":750,"b":1000,"v":3},{"y":-875,"a":1300,"b":1450,"v":3},{"y":-875,"a":850,"b":950,"v":4},{"y":-1125,"a":-2000,"b":-1450,"v":1},{"y":-1125,"a":-2000,"b":-1650,"v":2},{"y":-1125,"a":-2000,"b":-1850,"v":3},{"y":-1125,"a":-1150,"b":-850,"v":1},{"y":-1125,"a":-200,"b":300,"v":1},{"y":-1125,"a":700,"b":1600,"v":1},{"y":-1125,"a":750,"b":1100,"v":2},{"y":-1125,"a":800,"b":1000,"v":3},{"y":-1125,"a":850,"b":950,"v":4},{"y":-1375,"a":-2000,"b":-1400,"v":1},{"y":-1375,"a":-2000,"b":-1800,"v":2},{"y":-1375,"a":100,"b":1200,"v":1},{"y":-1375,"a":350,"b":600,"v":2},{"y":-1625,"a":-2000,"b":-1000,"v":1},{"y":-1625,"a":-1800,"b":-1500,"v":2},{"y":-1625,"a":-1700,"b":-1550,"v":3},{"y":-1625,"a":100,"b":500,"v":1},{"y":-1625,"a":1000,"b":1500,"v":1},{"y":-1875,"a":-2000,"b":-800,"v":1},{"y":-1875,"a":150,"b":600,"v":1},{"y":-1875,"a":1000,"b":1250,"v":1},{"y":-1875,"a":1100,"b":1250,"v":2}],
"p8":[{"y":1875,"a":-1700,"b":-900,"v":1},{"y":1875,"a":-1350,"b":-1000,"v":2},{"y":1625,"a":-1800,"b":-1250,"v":1},{"y":1375,"a":-1900,"b":-1400,"v":1},{"y":1375,"a":-1250,"b":-1050,"v":1},{"y":1125,"a":-2000,"b":-1850,"v":1},{"y":1125,"a":-1250,"b":-1050,"v":1},{"y":875,"a":-2000,"b":-1550,"v":1},{"y":875,"a":-1450,"b":-1300,"v":1},{"y":875,"a":150,"b":1300,"v":1},{"y":625,"a":-2000,"b":-1900,"v":1},{"y":625,"a":-200,"b":1150,"v":1},{"y":625,"a":150,"b":1000,"v":2},{"y":625,"a":500,"b":700,"v":3},{"y":375,"a":-1500,"b":-1400,"v":1},{"y":375,"a":-400,"b":1350,"v":1},{"y":375,"a":-300,"b":1000,"v":2},{"y":375,"a":-250,"b":900,"v":3},{"y":375,"a":50,"b":400,"v":4},{"y":125,"a":-600,"b":1900,"v":1},{"y":125,"a":-450,"b":1100,"v":2},{"y":125,"a":-350,"b":1000,"v":3},{"y":125,"a":-200,"b":650,"v":4},{"y":-125,"a":-650,"b":1800,"v":1},{"y":-125,"a":-500,"b":1250,"v":2},{"y":-125,"a":-50,"b":1000,"v":3},{"y":-125,"a":150,"b":600,"v":4},{"y":-375,"a":-2000,"b":-1700,"v":1},{"y":-375,"a":-700,"b":2000,"v":1},{"y":-375,"a":-100,"b":1400,"v":2},{"y":-375,"a":0,"b":1000,"v":3},{"y":-375,"a":300,"b":550,"v":4},{"y":-625,"a":-2000,"b":-1150,"v":1},{"y":-625,"a":-2000,"b":-1600,"v":2},{"y":-625,"a":-650,"b":2000,"v":1},{"y":-625,"a":-450,"b":-250,"v":2},{"y":-625,"a":150,"b":1100,"v":2},{"y":-625,"a":500,"b":950,"v":3},{"y":-875,"a":-2000,"b":-800,"v":1},{"y":-875,"a":-1950,"b":-1400,"v":2},{"y":-875,"a":-700,"b":1900,"v":1},{"y":-875,"a":-350,"b":-150,"v":2},{"y":-875,"a":300,"b":1100,"v":2},{"y":-875,"a":550,"b":900,"v":3},{"y":-1125,"a":-2000,"b":-1150,"v":1},{"y":-1125,"a":-1700,"b":-1500,"v":2},{"y":-1125,"a":-700,"b":1250,"v":1},{"y":-1125,"a":-100,"b":1100,"v":2},{"y":-1125,"a":800,"b":850,"v":3},{"y":-1125,"a":1850,"b":2000,"v":1},{"y":-1375,"a":-2000,"b":-1300,"v":1},{"y":-1375,"a":-2000,"b":-1750,"v":2},{"y":-1375,"a":-700,"b":2000,"v":1},{"y":-1375,"a":-100,"b":800,"v":2},{"y":-1375,"a":500,"b":750,"v":3},{"y":-1375,"a":1200,"b":1300,"v":2},{"y":-1625,"a":-2000,"b":-1000,"v":1},{"y":-1625,"a":-600,"b":1450,"v":1},{"y":-1625,"a":1700,"b":2000,"v":1},{"y":-1625,"a":-100,"b":300,"v":2},{"y":-1625,"a":350,"b":800,"v":2},{"y":-1625,"a":400,"b":700,"v":3},{"y":-1625,"a":1150,"b":1350,"v":2},{"y":-1875,"a":-2000,"b":-1000,"v":1},{"y":-1875,"a":-600,"b":-300,"v":1},{"y":-1875,"a":100,"b":1450,"v":1},{"y":-1875,"a":300,"b":900,"v":2},{"y":-1875,"a":400,"b":500,"v":3},{"y":-1875,"a":1650,"b":2000,"v":1},{"y":-1875,"a":1850,"b":1950,"v":2}],
"p9":[{"y":1875,"a":-2000,"b":-1700,"v":1},{"y":1875,"a":-1350,"b":-1300,"v":1},{"y":1625,"a":-2000,"b":-1850,"v":1},{"y":1625,"a":1100,"b":1300,"v":1},{"y":1375,"a":-2000,"b":-1900,"v":1},{"y":1125,"a":-2000,"b":-1600,"v":1},{"y":1125,"a":150,"b":400,"v":1},{"y":875,"a":-2000,"b":-1750,"v":1},{"y":875,"a":-250,"b":2000,"v":1},{"y":625,"a":-400,"b":2000,"v":1},{"y":625,"a":-100,"b":1400,"v":2},{"y":625,"a":100,"b":850,"v":3},{"y":375,"a":-600,"b":2000,"v":1},{"y":375,"a":-350,"b":1700,"v":2},{"y":375,"a":-250,"b":1350,"v":3},{"y":125,"a":-800,"b":2000,"v":1},{"y":125,"a":-450,"b":1950,"v":2},{"y":125,"a":-250,"b":1300,"v":3},{"y":125,"a":-50,"b":50,"v":4},{"y":125,"a":600,"b":850,"v":4},{"y":-125,"a":-2000,"b":-1600,"v":1},{"y":-125,"a":-750,"b":2000,"v":1},{"y":-125,"a":-600,"b":2000,"v":2},{"y":-125,"a":-150,"b":1500,"v":3},{"y":-125,"a":1650,"b":1850,"v":3},{"y":-125,"a":750,"b":1000,"v":4},{"y":-375,"a":-2000,"b":-1300,"v":1},{"y":-375,"a":-850,"b":2000,"v":1},{"y":-375,"a":-600,"b":2000,"v":2},{"y":-375,"a":-100,"b":1500,"v":3},{"y":-375,"a":1950,"b":2000,"v":3},{"y":-375,"a":800,"b":950,"v":4},{"y":-625,"a":-2000,"b":-1000,"v":1},{"y":-625,"a":-800,"b":2000,"v":1},{"y":-625,"a":-500,"b":2000,"v":2},{"y":-625,"a":-150,"b":1550,"v":3},{"y":-625,"a":150,"b":250,"v":4},{"y":-625,"a":600,"b":900,"v":4},{"y":-875,"a":-2000,"b":-1100,"v":1},{"y":-875,"a":-950,"b":2000,"v":1},{"y":-875,"a":-200,"b":1950,"v":2},{"y":-875,"a":-100,"b":1500,"v":3},{"y":-875,"a":450,"b":600,"v":4},{"y":-1125,"a":-2000,"b":2000,"v":1},{"y":-1125,"a":-600,"b":1950,"v":2},{"y":-1125,"a":-50,"b":1350,"v":3},{"y":-1125,"a":750,"b":1000,"v":4},{"y":-1375,"a":-2000,"b":2000,"v":1},{"y":-1375,"a":-800,"b":1400,"v":2},{"y":-1375,"a":1700,"b":2000,"v":2},{"y":-1375,"a":-500,"b":-100,"v":3},{"y":-1375,"a":150,"b":1100,"v":3},{"y":-1625,"a":-1750,"b":2000,"v":1},{"y":-1625,"a":-2000,"b":-1900,"v":1},{"y":-1625,"a":-900,"b":1100,"v":2},{"y":-1625,"a":-300,"b":-50,"v":3},{"y":-1625,"a":400,"b":1050,"v":3},{"y":-1875,"a":-2000,"b":-1800,"v":1},{"y":-1875,"a":-1450,"b":1900,"v":1},{"y":-1875,"a":-850,"b":1050,"v":2},{"y":-1875,"a":450,"b":800,"v":3}],
"l1":[{"c":1,"x":120,"y":70},{"c":1,"x":75,"y":175},{"c":1,"x":-30,"y":220},{"c":1,"x":-135,"y":175},{"c":1,"x":-180,"y":70},{"c":1,"x":-135,"y":-35},{"c":1,"x":-30,"y":-80},{"c":1,"x":75,"y":-35},{"c":1,"x":120,"y":70},{"c":2,"x":550,"y":0},{"c":2,"x":380,"y":370},{"c":2,"x":0,"y":550},{"c":2,"x":-400,"y":350},{"c":2,"x":-580,"y":0},{"c":2,"x":-400,"y":-350},{"c":2,"x":0,"y":-480},{"c":2,"x":380,"y":-350},{"c":2,"x":550,"y":0},{"c":3,"x":-1075,"y":195},{"c":3,"x":-1000,"y":-30},{"c":3,"x":-670,"y":-710},{"c":3,"x":-30,"y":-890},{"c":3,"x":560,"y":-620},{"c":3,"x":830,"y":15},{"c":3,"x":650,"y":650},{"c":3,"x":240,"y":960},{"c":3,"x":195,"y":1280},{"c":3,"x":560,"y":1690},{"c":3,"x":830,"y":1640},{"c":4,"x":-2000,"y":920},{"c":4,"x":-1800,"y":1000},{"c":4,"x":-1255,"y":1415},{"c":4,"x":-1030,"y":1820},{"c":4,"x":-890,"y":1980},{"c":5,"x":-2000,"y":200},{"c":5,"x":-1800,"y":300},{"c":5,"x":-1680,"y":500},{"c":6,"x":1420,"y":690},{"c":6,"x":1600,"y":290},{"c":6,"x":1420,"y":-170},{"c":6,"x":1510,"y":-440},{"c":7,"x":1010,"y":2000},{"c":7,"x":1465,"y":1780},{"c":7,"x":1960,"y":1500},{"c":8,"x":1465,"y":-1120},{"c":8,"x":1690,"y":-940},{"c":8,"x":2000,"y":-940}],
"l2":[{"c":1,"x":400,"y":0},{"c":1,"x":280,"y":280},{"c":1,"x":0,"y":400},{"c":1,"x":-280,"y":280},{"c":1,"x":-400,"y":0},{"c":1,"x":-280,"y":-280},{"c":1,"x":0,"y":-400},{"c":1,"x":280,"y":-280},{"c":1,"x":400,"y":0},{"c":2,"x":670,"y":-60},{"c":2,"x":470,"y":430},{"c":2,"x":-15,"y":640},{"c":2,"x":-500,"y":430},{"c":2,"x":-700,"y":-60},{"c":2,"x":-500,"y":-550},{"c":2,"x":-15,"y":-760},{"c":2,"x":470,"y":-550},{"c":2,"x":670,"y":-60},{"c":3,"x":-960,"y":-1780},{"c":3,"x":-1075,"y":-1050},{"c":3,"x":-1140,"y":-170},{"c":3,"x":-980,"y":420},{"c":3,"x":-710,"y":780},{"c":3,"x":-300,"y":900},{"c":3,"x":-30,"y":1240},{"c":3,"x":-300,"y":1490},{"c":4,"x":285,"y":-1940},{"c":4,"x":220,"y":-1660},{"c":4,"x":830,"y":-800},{"c":4,"x":1010,"y":-80},{"c":4,"x":920,"y":510},{"c":4,"x":350,"y":1100},{"c":4,"x":690,"y":1420},{"c":4,"x":1280,"y":1370},{"c":4,"x":1870,"y":1170},{"c":5,"x":2000,"y":715},{"c":5,"x":1650,"y":715},{"c":5,"x":1465,"y":420},{"c":5,"x":1380,"y":100},{"c":5,"x":1420,"y":-440},{"c":5,"x":1555,"y":-1075},{"c":5,"x":2000,"y":-1390},{"c":6,"x":-2000,"y":1615},{"c":6,"x":-1500,"y":1750},{"c":6,"x":-1030,"y":1950},{"c":7,"x":-1030,"y":1640},{"c":7,"x":-440,"y":1840},{"c":7,"x":740,"y":1820},{"c":7,"x":2000,"y":1300},{"c":8,"x":1330,"y":1980},{"c":8,"x":2000,"y":1640},{"c":9,"x":-2000,"y":-1900},{"c":9,"x":-1480,"y":-1790},{"c":9,"x":-960,"y":-1840}],
"l3":[{"c":1,"x":420,"y":30},{"c":1,"x":300,"y":330},{"c":1,"x":0,"y":450},{"c":1,"x":-300,"y":330},{"c":1,"x":-420,"y":30},{"c":1,"x":-300,"y":-270},{"c":1,"x":0,"y":-390},{"c":1,"x":300,"y":-270},{"c":1,"x":420,"y":30},{"c":2,"x":690,"y":-30},{"c":2,"x":490,"y":460},{"c":2,"x":25,"y":670},{"c":2,"x":-440,"y":460},{"c":2,"x":-640,"y":-30},{"c":2,"x":-440,"y":-520},{"c":2,"x":25,"y":-730},{"c":2,"x":490,"y":-520},{"c":2,"x":690,"y":-30},{"c":3,"x":290,"y":-1140},{"c":3,"x":-210,"y":-1300},{"c":3,"x":-660,"y":-1170},{"c":3,"x":-980,"y":-620},{"c":3,"x":-1000,"y":-350},{"c":3,"x":-850,"y":240},{"c":3,"x":-500,"y":800},{"c":3,"x":0,"y":960},{"c":3,"x":500,"y":850},{"c":3,"x":950,"y":300},{"c":3,"x":950,"y":-300},{"c":3,"x":800,"y":-800},{"c":4,"x":2000,"y":1240},{"c":4,"x":1300,"y":1460},{"c":4,"x":1000,"y":1450},{"c":4,"x":875,"y":1240},{"c":4,"x":1150,"y":740},{"c":4,"x":1240,"y":200},{"c":4,"x":1375,"y":-620},{"c":4,"x":1150,"y":-1210},{"c":5,"x":-2000,"y":-1250},{"c":5,"x":-1650,"y":-840},{"c":5,"x":-1250,"y":150},{"c":5,"x":-800,"y":1200},{"c":5,"x":-560,"y":1300},{"c":6,"x":-2000,"y":1780},{"c":6,"x":-1500,"y":1950},{"c":6,"x":-800,"y":1990},{"c":7,"x":1830,"y":-80},{"c":7,"x":1830,"y":-720},{"c":7,"x":2000,"y":-1000}],
"l4":[{"c":1,"x":400,"y":110},{"c":1,"x":280,"y":340},{"c":1,"x":0,"y":440},{"c":1,"x":-280,"y":340},{"c":1,"x":-400,"y":110},{"c":1,"x":-280,"y":-120},{"c":1,"x":0,"y":-220},{"c":1,"x":280,"y":-120},{"c":1,"x":400,"y":110},{"c":2,"x":720,"y":70},{"c":2,"x":550,"y":330},{"c":2,"x":150,"y":440},{"c":2,"x":-250,"y":330},{"c":2,"x":-420,"y":70},{"c":2,"x":-250,"y":-190},{"c":2,"x":150,"y":-300},{"c":2,"x":550,"y":-190},{"c":2,"x":720,"y":70},{"c":3,"x":-760,"y":195},{"c":3,"x":-575,"y":600},{"c":3,"x":-350,"y":720},{"c":3,"x":195,"y":690},{"c":3,"x":560,"y":420},{"c":3,"x":780,"y":60},{"c":3,"x":650,"y":-530},{"c":3,"x":100,"y":-570},{"c":3,"x":-440,"y":-480},{"c":3,"x":-760,"y":195},{"c":4,"x":-420,"y":-800},{"c":4,"x":-120,"y":-910},{"c":4,"x":560,"y":-840},{"c":4,"x":965,"y":-480},{"c":4,"x":1150,"y":280},{"c":4,"x":1100,"y":780},{"c":4,"x":1280,"y":870},{"c":4,"x":1600,"y":780},{"c":4,"x":2000,"y":545},{"c":5,"x":-1140,"y":-240},{"c":5,"x":-940,"y":-580},{"c":6,"x":-2000,"y":-120},{"c":6,"x":-1710,"y":-80},{"c":6,"x":-1570,"y":280},{"c":6,"x":-1190,"y":600},{"c":7,"x":-1255,"y":1230},{"c":7,"x":-760,"y":1330},{"c":7,"x":-350,"y":1690},{"c":7,"x":100,"y":1830},{"c":7,"x":420,"y":1720},{"c":7,"x":780,"y":1740},{"c":7,"x":1010,"y":1530},{"c":7,"x":1330,"y":1510},{"c":7,"x":1645,"y":1240},{"c":7,"x":2000,"y":1010},{"c":8,"x":1240,"y":1980},{"c":8,"x":2000,"y":1400},{"c":9,"x":1240,"y":-1530},{"c":9,"x":1300,"y":-1150},{"c":9,"x":1580,"y":-800},{"c":9,"x":1800,"y":-500},{"c":9,"x":2000,"y":-460},{"c":10,"x":-1165,"y":-1950},{"c":10,"x":-940,"y":-1680},{"c":10,"x":-670,"y":-1880}],
"l5":[{"c":1,"x":140,"y":70},{"c":1,"x":100,"y":170},{"c":1,"x":0,"y":210},{"c":1,"x":-100,"y":170},{"c":1,"x":-140,"y":70},{"c":1,"x":-100,"y":-30},{"c":1,"x":0,"y":-70},{"c":1,"x":100,"y":-30},{"c":1,"x":140,"y":70},{"c":2,"x":470,"y":20},{"c":2,"x":340,"y":315},{"c":2,"x":25,"y":440},{"c":2,"x":-290,"y":315},{"c":2,"x":-420,"y":20},{"c":2,"x":-290,"y":-275},{"c":2,"x":25,"y":-400},{"c":2,"x":340,"y":-275},{"c":2,"x":470,"y":20},{"c":3,"x":-460,"y":100},{"c":3,"x":-300,"y":500},{"c":3,"x":200,"y":580},{"c":3,"x":650,"y":300},{"c":3,"x":780,"y":-100},{"c":3,"x":500,"y":-550},{"c":3,"x":0,"y":-700},{"c":3,"x":-400,"y":-500},{"c":3,"x":-460,"y":100},{"c":4,"x":-760,"y":-30},{"c":4,"x":-670,"y":600},{"c":4,"x":-260,"y":720},{"c":4,"x":-30,"y":1010},{"c":4,"x":100,"y":1150},{"c":4,"x":285,"y":1010},{"c":4,"x":650,"y":600},{"c":4,"x":900,"y":0},{"c":5,"x":-2000,"y":490},{"c":5,"x":-1710,"y":420},{"c":5,"x":-1350,"y":490},{"c":5,"x":-1190,"y":350},{"c":5,"x":-1150,"y":-200},{"c":5,"x":-1075,"y":-610},{"c":5,"x":-710,"y":-1030},{"c":5,"x":-80,"y":-1210},{"c":5,"x":560,"y":-985},{"c":5,"x":1010,"y":-300},{"c":5,"x":1150,"y":100},{"c":5,"x":1150,"y":920},{"c":5,"x":1510,"y":870},{"c":5,"x":2000,"y":640},{"c":6,"x":-2000,"y":1600},{"c":6,"x":-1620,"y":1800},{"c":6,"x":-1080,"y":1820},{"c":6,"x":-440,"y":1980},{"c":7,"x":-2000,"y":1240},{"c":7,"x":-1620,"y":1350},{"c":7,"x":-940,"y":1350},{"c":7,"x":-300,"y":1530},{"c":7,"x":560,"y":1650},{"c":7,"x":920,"y":1650},{"c":7,"x":1465,"y":1400},{"c":7,"x":2000,"y":1100},{"c":8,"x":1100,"y":1980},{"c":8,"x":1465,"y":1790},{"c":8,"x":2000,"y":1330},{"c":9,"x":1375,"y":-800},{"c":9,"x":1650,"y":-260},{"c":9,"x":2000,"y":-120},{"c":10,"x":1100,"y":-1520},{"c":10,"x":1240,"y":-1800},{"c":10,"x":1555,"y":-1730},{"c":10,"x":2000,"y":-1800}],
"l6":[{"c":1,"x":290,"y":70},{"c":1,"x":210,"y":240},{"c":1,"x":25,"y":310},{"c":1,"x":-160,"y":240},{"c":1,"x":-240,"y":70},{"c":1,"x":-160,"y":-100},{"c":1,"x":25,"y":-170},{"c":1,"x":210,"y":-100},{"c":1,"x":290,"y":70},{"c":2,"x":560,"y":60},{"c":2,"x":410,"y":390},{"c":2,"x":50,"y":530},{"c":2,"x":-310,"y":390},{"c":2,"x":-460,"y":60},{"c":2,"x":-310,"y":-270},{"c":2,"x":50,"y":-410},{"c":2,"x":410,"y":-270},{"c":2,"x":560,"y":60},{"c":3,"x":790,"y":35},{"c":3,"x":570,"y":550},{"c":3,"x":45,"y":770},{"c":3,"x":-480,"y":550},{"c":3,"x":-700,"y":35},{"c":3,"x":-480,"y":-480},{"c":3,"x":45,"y":-700},{"c":3,"x":570,"y":-480},{"c":3,"x":790,"y":35},{"c":4,"x":-800,"y":1440},{"c":4,"x":-210,"y":1370},{"c":4,"x":-170,"y":1190},{"c":4,"x":-800,"y":550},{"c":4,"x":-1000,"y":-30},{"c":4,"x":-670,"y":-750},{"c":4,"x":-120,"y":-1070},{"c":4,"x":420,"y":-1030},{"c":4,"x":830,"y":-620},{"c":4,"x":1060,"y":190},{"c":4,"x":920,"y":1100},{"c":4,"x":1100,"y":1240},{"c":4,"x":2000,"y":1170},{"c":5,"x":510,"y":-1430},{"c":5,"x":1010,"y":-800},{"c":5,"x":1420,"y":100},{"c":5,"x":1690,"y":550},{"c":5,"x":2000,"y":600},{"c":6,"x":-2000,"y":640},{"c":6,"x":-1710,"y":600},{"c":6,"x":-1350,"y":285},{"c":6,"x":-1400,"y":-480},{"c":7,"x":-1100,"y":-1070},{"c":7,"x":-1030,"y":-1410},{"c":8,"x":-2000,"y":1760},{"c":8,"x":-1500,"y":1960},{"c":8,"x":-800,"y":1960},{"c":8,"x":-350,"y":1940},{"c":8,"x":560,"y":1870},{"c":8,"x":1465,"y":1730},{"c":8,"x":2000,"y":1600},{"c":9,"x":-2000,"y":1080},{"c":9,"x":-1350,"y":1210},{"c":10,"x":1690,"y":-400},{"c":10,"x":2000,"y":-170},{"c":11,"x":1465,"y":-1250},{"c":11,"x":1555,"y":-1520},{"c":11,"x":2000,"y":-1890}],
"l7":[{"c":1,"x":285,"y":105},{"c":1,"x":195,"y":280},{"c":1,"x":-20,"y":350},{"c":1,"x":-235,"y":280},{"c":1,"x":-325,"y":105},{"c":1,"x":-235,"y":-70},{"c":1,"x":-20,"y":-140},{"c":1,"x":195,"y":-70},{"c":1,"x":285,"y":105},{"c":2,"x":600,"y":0},{"c":2,"x":460,"y":310},{"c":2,"x":125,"y":440},{"c":2,"x":-210,"y":310},{"c":2,"x":-350,"y":0},{"c":2,"x":-210,"y":-310},{"c":2,"x":125,"y":-440},{"c":2,"x":460,"y":-310},{"c":2,"x":600,"y":0},{"c":3,"x":-670,"y":10},{"c":3,"x":-450,"y":430},{"c":3,"x":0,"y":680},{"c":3,"x":500,"y":600},{"c":3,"x":1050,"y":200},{"c":3,"x":900,"y":-300},{"c":3,"x":500,"y":-700},{"c":3,"x":0,"y":-800},{"c":3,"x":-400,"y":-400},{"c":3,"x":-670,"y":10},{"c":4,"x":-2000,"y":190},{"c":4,"x":-1210,"y":280},{"c":4,"x":-940,"y":-220},{"c":4,"x":-620,"y":-580},{"c":4,"x":-80,"y":-790},{"c":5,"x":-1210,"y":530},{"c":5,"x":-1150,"y":690},{"c":5,"x":-990,"y":640},{"c":5,"x":-1030,"y":420},{"c":5,"x":-1190,"y":300},{"c":6,"x":-2000,"y":1190},{"c":6,"x":-1650,"y":1600},{"c":6,"x":-1300,"y":1800},{"c":6,"x":-800,"y":1950},{"c":6,"x":-450,"y":1980},{"c":7,"x":-1250,"y":1360},{"c":7,"x":-670,"y":1500},{"c":7,"x":-570,"y":1900},{"c":8,"x":-440,"y":1450},{"c":8,"x":-420,"y":1330},{"c":8,"x":-210,"y":1230},{"c":8,"x":285,"y":1170},{"c":8,"x":560,"y":1100},{"c":8,"x":600,"y":730},{"c":9,"x":560,"y":1650},{"c":9,"x":1100,"y":1500},{"c":9,"x":1555,"y":960},{"c":9,"x":2000,"y":780},{"c":10,"x":1730,"y":1960},{"c":10,"x":2000,"y":1690},{"c":11,"x":-800,"y":-1100},{"c":11,"x":-350,"y":-1300},{"c":11,"x":0,"y":-1340},{"c":11,"x":700,"y":-1750},{"c":11,"x":650,"y":-1950},{"c":12,"x":875,"y":-1750},{"c":12,"x":1100,"y":-1500},{"c":12,"x":1330,"y":-1660},{"c":12,"x":1190,"y":-1890},{"c":13,"x":1580,"y":-760},{"c":13,"x":1830,"y":-800},{"c":13,"x":1920,"y":-1080},{"c":13,"x":1690,"y":-1120},{"c":13,"x":1420,"y":-940}],
"l8":[{"c":1,"x":285,"y":70},{"c":1,"x":200,"y":250},{"c":1,"x":0,"y":330},{"c":1,"x":-200,"y":250},{"c":1,"x":-285,"y":70},{"c":1,"x":-200,"y":-110},{"c":1,"x":0,"y":-190},{"c":1,"x":200,"y":-110},{"c":1,"x":285,"y":70},{"c":2,"x":600,"y":60},{"c":2,"x":435,"y":425},{"c":2,"x":35,"y":580},{"c":2,"x":-365,"y":425},{"c":2,"x":-530,"y":60},{"c":2,"x":-365,"y":-305},{"c":2,"x":35,"y":-460},{"c":2,"x":435,"y":-305},{"c":2,"x":600,"y":60},{"c":3,"x":870,"y":50},{"c":3,"x":650,"y":565},{"c":3,"x":125,"y":780},{"c":3,"x":-400,"y":565},{"c":3,"x":-620,"y":50},{"c":3,"x":-400,"y":-465},{"c":3,"x":125,"y":-680},{"c":3,"x":650,"y":-465},{"c":3,"x":870,"y":50},{"c":4,"x":-2000,"y":-280},{"c":4,"x":-1710,"y":-300},{"c":4,"x":-1570,"y":-440},{"c":4,"x":-1165,"y":-770},{"c":4,"x":-800,"y":-985},{"c":4,"x":-120,"y":-1165},{"c":4,"x":740,"y":-985},{"c":4,"x":1190,"y":-430},{"c":4,"x":1280,"y":150},{"c":4,"x":1100,"y":700},{"c":4,"x":1170,"y":830},{"c":4,"x":1555,"y":830},{"c":4,"x":2000,"y":600},{"c":5,"x":-1000,"y":100},{"c":5,"x":-800,"y":600},{"c":5,"x":-400,"y":850},{"c":5,"x":-30,"y":1170},{"c":5,"x":100,"y":1010},{"c":5,"x":380,"y":900},{"c":5,"x":690,"y":650},{"c":6,"x":-2000,"y":1600},{"c":6,"x":-1570,"y":1830},{"c":6,"x":-890,"y":1950},{"c":6,"x":-80,"y":1980},{"c":7,"x":-1075,"y":1050},{"c":7,"x":-850,"y":960},{"c":7,"x":-620,"y":1100},{"c":7,"x":-260,"y":1420},{"c":7,"x":100,"y":1620},{"c":7,"x":560,"y":1670},{"c":7,"x":1010,"y":1620},{"c":7,"x":1465,"y":1420},{"c":7,"x":2000,"y":1010},{"c":8,"x":1200,"y":1980},{"c":8,"x":1465,"y":1790},{"c":8,"x":2000,"y":1500},{"c":9,"x":-2000,"y":375},{"c":9,"x":-1890,"y":785},{"c":9,"x":-1710,"y":900}],
"l9":[{"c":1,"x":330,"y":130},{"c":1,"x":235,"y":365},{"c":1,"x":0,"y":490},{"c":1,"x":-235,"y":365},{"c":1,"x":-330,"y":130},{"c":1,"x":-235,"y":-100},{"c":1,"x":0,"y":-235},{"c":1,"x":235,"y":-100},{"c":1,"x":330,"y":130},{"c":2,"x":580,"y":170},{"c":2,"x":415,"y":590},{"c":2,"x":25,"y":760},{"c":2,"x":-365,"y":590},{"c":2,"x":-530,"y":170},{"c":2,"x":-365,"y":-250},{"c":2,"x":25,"y":-420},{"c":2,"x":415,"y":-250},{"c":2,"x":580,"y":170},{"c":3,"x":-570,"y":-150},{"c":3,"x":-430,"y":500},{"c":3,"x":0,"y":780},{"c":3,"x":500,"y":650},{"c":3,"x":800,"y":100},{"c":3,"x":700,"y":-350},{"c":3,"x":200,"y":-620},{"c":3,"x":-250,"y":-550},{"c":4,"x":-2000,"y":1370},{"c":4,"x":-1570,"y":1600},{"c":4,"x":-1165,"y":1640},{"c":4,"x":-670,"y":1640},{"c":4,"x":-400,"y":1800},{"c":4,"x":-170,"y":1640},{"c":4,"x":-170,"y":1280},{"c":4,"x":-440,"y":740},{"c":4,"x":-800,"y":100},{"c":4,"x":-770,"y":-300},{"c":4,"x":-670,"y":-570},{"c":4,"x":-30,"y":-1120},{"c":4,"x":560,"y":-980},{"c":4,"x":1100,"y":-440},{"c":4,"x":1465,"y":285},{"c":4,"x":1600,"y":830},{"c":4,"x":2000,"y":960},{"c":5,"x":-2000,"y":1030},{"c":5,"x":-1350,"y":1010},{"c":5,"x":-1075,"y":780},{"c":5,"x":-1050,"y":190},{"c":6,"x":-2000,"y":420},{"c":6,"x":-1800,"y":420},{"c":6,"x":-1480,"y":15},{"c":6,"x":-1180,"y":-640},{"c":6,"x":-350,"y":-1165},{"c":6,"x":375,"y":-1120},{"c":6,"x":1010,"y":-620},{"c":6,"x":1420,"y":-170},{"c":6,"x":1700,"y":200},{"c":7,"x":-2000,"y":-510},{"c":7,"x":-1710,"y":-800},{"c":7,"x":-1255,"y":-1120},{"c":7,"x":-580,"y":-1520},{"c":7,"x":10,"y":-1590},{"c":7,"x":785,"y":-1390},{"c":7,"x":1375,"y":-890},{"c":7,"x":1645,"y":-120},{"c":7,"x":2000,"y":350},{"c":8,"x":510,"y":1640},{"c":8,"x":420,"y":1050},{"c":8,"x":600,"y":240},{"c":9,"x":1010,"y":1010},{"c":9,"x":1375,"y":1460},{"c":9,"x":2000,"y":1440},{"c":10,"x":740,"y":1970},{"c":10,"x":1100,"y":1980},{"c":10,"x":1465,"y":1800},{"c":10,"x":2000,"y":1800},{"c":11,"x":2000,"y":-1030},{"c":11,"x":1735,"y":-1430},{"c":11,"x":1735,"y":-1970},{"c":12,"x":80,"y":1620},{"c":12,"x":195,"y":1710},{"c":12,"x":260,"y":1500},{"c":12,"x":215,"y":1320},{"c":12,"x":150,"y":1340},{"c":12,"x":80,"y":1620}],
"t1":[{"x":-1480,"y":1240,"t":"1010","a":-20},{"x":-1480,"y":785,"t":"1014","a":-50},{"x":1305,"y":1440,"t":"1014","a":15},{"x":1375,"y":-710,"t":"1018","a":-80}],
"t2":[{"x":-1370,"y":1530,"t":"1010","a":-15},{"x":-1570,"y":830,"t":"1014","a":-15},{"x":285,"y":-660,"t":"1010","a":-15},{"x":625,"y":-1115,"t":"1014","a":-75},{"x":1400,"y":-260,"t":"1018","a":80}],
"t3":[{"x":-1345,"y":1690,"t":"1010","a":-30},{"x":-1415,"y":1260,"t":"1014","a":-25},{"x":1330,"y":1790,"t":"1010","a":10},{"x":1690,"y":150,"t":"1018","a":45},{"x":600,"y":-1070,"t":"1010","a":-35},{"x":1010,"y":-1340,"t":"1014","a":-60}],
"t4":[{"x":-1415,"y":1510,"t":"1006","a":-15},{"x":-1460,"y":960,"t":"1010","a":-40},{"x":-670,"y":-800,"t":"1014","a":20},{"x":490,"y":-390,"t":"1010","a":-35}],
"t5":[{"x":-1415,"y":1530,"t":"1006","a":-30},{"x":-1280,"y":1280,"t":"1010","a":-20},{"x":-1100,"y":-190,"t":"1014","a":80},{"x":535,"y":-460,"t":"1010","a":-45},{"x":1260,"y":-1070,"t":"1018","a":-85}],
"t6":[{"x":-1400,"y":1690,"t":"1006","a":5},{"x":-1120,"y":1390,"t":"1010","a":-30},{"x":-1210,"y":-780,"t":"1014","a":50},{"x":535,"y":-480,"t":"1006","a":-50},{"x":1580,"y":-760,"t":"1018","a":-80},{"x":285,"y":-1730,"t":"1014","a":-35}],
"t7":[{"x":1330,"y":1820,"t":"1010","a":30},{"x":-1530,"y":1170,"t":"1010","a":-50},{"x":-260,"y":600,"t":"1010","a":-35},{"x":-890,"y":-350,"t":"1014","a":40},{"x":-1140,"y":-1050,"t":"1018","a":-15}],
"t8":[{"x":-1415,"y":1530,"t":"1006","a":-30},{"x":-1370,"y":990,"t":"1010","a":-15},{"x":-1440,"y":-550,"t":"1014","a":45},{"x":490,"y":-620,"t":"1010","a":-15}],
"t9":[{"x":-1460,"y":1530,"t":"1002","a":15},{"x":-1350,"y":-350,"t":"1010","a":50},{"x":-1530,"y":-940,"t":"1014","a":30},{"x":-330,"y":-850,"t":"1006","a":10}],
"bar":[{"a":340,"b":420,"v":1,"y":60,"y2":80},{"a":420,"b":500,"v":2,"y":60,"y2":80},{"a":500,"b":580,"v":3,"y":60,"y2":80},{"a":580,"b":660,"v":4,"y":60,"y2":80},{"a":660,"b":740,"v":5,"y":60,"y2":80},{"a":740,"b":820,"v":6,"y":60,"y2":80}],
"barticks":[{"x":340,"y":83,"t":"1.0"},{"x":420,"y":83,"t":"2.0"},{"x":500,"y":83,"t":"3.0"},{"x":580,"y":83,"t":"5.0"},{"x":660,"y":83,"t":"7.0"},{"x":740,"y":83,"t":"10.0"},{"x":820,"y":83,"t":"30.0"}],
"texts":[{"x":603,"y":25,"t":"Rainfall","s":36,"f":"Open Sans","a":0},{"x":867,"y":74,"t":"mm day","s":17,"f":"Liberation Sans","a":0},{"x":903,"y":66,"t":"-1","s":9,"f":"Liberation Sans","a":0},{"x":1237,"y":708,"t":"Increasing moisture","s":40,"f":"Liberation Sans","a":270},{"x":598,"y":1407,"t":"Increasing cyclone strength","s":40,"f":"Liberation Sans","a":0}]
},
"bounds":"flush","spacing":{"row":132,"column":105},"columns":3,"concat":[
{"width":295,"height":295,"resolve":{"axis":{"x":"independent","y":"independent"}},"layer":[
{"data":{"name":"p1"},"mark":{"type":"rect","height":19},"encoding":{"x":{"field":"a","type":"quantitative","scale":{"domain":[-2000,2000],"nice":false},"axis":{"tickCount":20,"labelExpr":"datum.value%1000==0?''+datum.value:''"}},"x2":{"field":"b"},"y":{"field":"y","type":"quantitative","scale":{"domain":[-2000,2000],"nice":false},"axis":{"tickCount":20,"labelFlush":true,"labelExpr":"datum.value%1000==0?''+datum.value:''"}},"color":{"field":"v","type":"ordinal","scale":{"domain":[1,2,3,4,5,6],"range":["#3f53a2","#6ca3da","#95c9a9","#f7e433","#d9752b","#cb2327"]},"legend":null}}},
{"data":{"name":"l1"},"mark":{"type":"line","interpolate":"cardinal","order":null,"stroke":"#222","strokeWidth":0.9},"encoding":{"x":{"field":"x","type":"quantitative","scale":{"domain":[-2000,2000],"nice":false},"axis":null},"y":{"field":"y","type":"quantitative","scale":{"domain":[-2000,2000],"nice":false},"axis":null},"detail":{"field":"c"}}},
{"data":{"name":"w"},"mark":{"type":"point","shape":"M0,-1L0,1M-0.35,-0.45L0,-1L0.35,-0.45","stroke":"#111","strokeWidth":0.9,"filled":false},"encoding":{"x":{"field":"x","type":"quantitative","scale":{"domain":[-2000,2000],"nice":false},"axis":{"orient":"top","labels":false,"tickCount":20}},"y":{"field":"y","type":"quantitative","scale":{"domain":[-2000,2000],"nice":false},"axis":{"orient":"right","labels":false,"tickCount":20}},"angle":{"field":"a","type":"quantitative","scale":null},"size":{"field":"s","type":"quantitative","scale":null}}},
{"data":{"name":"t1"},"mark":{"type":"text","fontSize":15,"color":"#111"},"encoding":{"x":{"field":"x","type":"quantitative","scale":{"domain":[-2000,2000],"nice":false},"axis":null},"y":{"field":"y","type":"quantitative","scale":{"domain":[-2000,2000],"nice":false},"axis":null},"text":{"field":"t"},"angle":{"field":"a","type":"quantitative","scale":null}}}]},
{"width":295,"height":295,"resolve":{"axis":{"x":"independent","y":"independent"}},"layer":[
{"data":{"name":"p2"},"mark":{"type":"rect","height":19},"encoding":{"x":{"field":"a","type":"quantitative","scale":{"domain":[-2000,2000],"nice":false},"axis":{"tickCount":20,"labelExpr":"datum.value%1000==0?''+datum.value:''"}},"x2":{"field":"b"},"y":{"field":"y","type":"quantitative","scale":{"domain":[-2000,2000],"nice":false},"axis":{"tickCount":20,"labelFlush":true,"labelExpr":"datum.value%1000==0?''+datum.value:''"}},"color":{"field":"v","type":"ordinal","scale":{"domain":[1,2,3,4,5,6],"range":["#3f53a2","#6ca3da","#95c9a9","#f7e433","#d9752b","#cb2327"]},"legend":null}}},
{"data":{"name":"l2"},"mark":{"type":"line","interpolate":"cardinal","order":null,"stroke":"#222","strokeWidth":0.9},"encoding":{"x":{"field":"x","type":"quantitative","scale":{"domain":[-2000,2000],"nice":false},"axis":null},"y":{"field":"y","type":"quantitative","scale":{"domain":[-2000,2000],"nice":false},"axis":null},"detail":{"field":"c"}}},
{"data":{"name":"w"},"mark":{"type":"point","shape":"M0,-1L0,1M-0.35,-0.45L0,-1L0.35,-0.45","stroke":"#111","strokeWidth":0.9,"filled":false},"encoding":{"x":{"field":"x","type":"quantitative","scale":{"domain":[-2000,2000],"nice":false},"axis":{"orient":"top","labels":false,"tickCount":20}},"y":{"field":"y","type":"quantitative","scale":{"domain":[-2000,2000],"nice":false},"axis":{"orient":"right","labels":false,"tickCount":20}},"angle":{"field":"a","type":"quantitative","scale":null},"size":{"field":"s","type":"quantitative","scale":null}}},
{"data":{"name":"t2"},"mark":{"type":"text","fontSize":15,"color":"#111"},"encoding":{"x":{"field":"x","type":"quantitative","scale":{"domain":[-2000,2000],"nice":false},"axis":null},"y":{"field":"y","type":"quantitative","scale":{"domain":[-2000,2000],"nice":false},"axis":null},"text":{"field":"t"},"angle":{"field":"a","type":"quantitative","scale":null}}}]},
{"width":295,"height":295,"resolve":{"axis":{"x":"independent","y":"independent"}},"layer":[
{"data":{"name":"p3"},"mark":{"type":"rect","height":19},"encoding":{"x":{"field":"a","type":"quantitative","scale":{"domain":[-2000,2000],"nice":false},"axis":{"tickCount":20,"labelExpr":"datum.value%1000==0?''+datum.value:''"}},"x2":{"field":"b"},"y":{"field":"y","type":"quantitative","scale":{"domain":[-2000,2000],"nice":false},"axis":{"tickCount":20,"labelFlush":true,"labelExpr":"datum.value%1000==0?''+datum.value:''"}},"color":{"field":"v","type":"ordinal","scale":{"domain":[1,2,3,4,5,6],"range":["#3f53a2","#6ca3da","#95c9a9","#f7e433","#d9752b","#cb2327"]},"legend":null}}},
{"data":{"name":"l3"},"mark":{"type":"line","interpolate":"cardinal","order":null,"stroke":"#222","strokeWidth":0.9},"encoding":{"x":{"field":"x","type":"quantitative","scale":{"domain":[-2000,2000],"nice":false},"axis":null},"y":{"field":"y","type":"quantitative","scale":{"domain":[-2000,2000],"nice":false},"axis":null},"detail":{"field":"c"}}},
{"data":{"name":"w"},"mark":{"type":"point","shape":"M0,-1L0,1M-0.35,-0.45L0,-1L0.35,-0.45","stroke":"#111","strokeWidth":0.9,"filled":false},"encoding":{"x":{"field":"x","type":"quantitative","scale":{"domain":[-2000,2000],"nice":false},"axis":{"orient":"top","labels":false,"tickCount":20}},"y":{"field":"y","type":"quantitative","scale":{"domain":[-2000,2000],"nice":false},"axis":{"orient":"right","labels":false,"tickCount":20}},"angle":{"field":"a","type":"quantitative","scale":null},"size":{"field":"s","type":"quantitative","scale":null}}},
{"data":{"name":"t3"},"mark":{"type":"text","fontSize":15,"color":"#111"},"encoding":{"x":{"field":"x","type":"quantitative","scale":{"domain":[-2000,2000],"nice":false},"axis":null},"y":{"field":"y","type":"quantitative","scale":{"domain":[-2000,2000],"nice":false},"axis":null},"text":{"field":"t"},"angle":{"field":"a","type":"quantitative","scale":null}}}]},
{"width":295,"height":295,"resolve":{"axis":{"x":"independent","y":"independent"}},"layer":[
{"data":{"name":"p4"},"mark":{"type":"rect","height":19},"encoding":{"x":{"field":"a","type":"quantitative","scale":{"domain":[-2000,2000],"nice":false},"axis":{"tickCount":20,"labelExpr":"datum.value%1000==0?''+datum.value:''"}},"x2":{"field":"b"},"y":{"field":"y","type":"quantitative","scale":{"domain":[-2000,2000],"nice":false},"axis":{"tickCount":20,"labelFlush":true,"labelExpr":"datum.value%1000==0?''+datum.value:''"}},"color":{"field":"v","type":"ordinal","scale":{"domain":[1,2,3,4,5,6],"range":["#3f53a2","#6ca3da","#95c9a9","#f7e433","#d9752b","#cb2327"]},"legend":null}}},
{"data":{"name":"l4"},"mark":{"type":"line","interpolate":"cardinal","order":null,"stroke":"#222","strokeWidth":0.9},"encoding":{"x":{"field":"x","type":"quantitative","scale":{"domain":[-2000,2000],"nice":false},"axis":null},"y":{"field":"y","type":"quantitative","scale":{"domain":[-2000,2000],"nice":false},"axis":null},"detail":{"field":"c"}}},
{"data":{"name":"w"},"mark":{"type":"point","shape":"M0,-1L0,1M-0.35,-0.45L0,-1L0.35,-0.45","stroke":"#111","strokeWidth":0.9,"filled":false},"encoding":{"x":{"field":"x","type":"quantitative","scale":{"domain":[-2000,2000],"nice":false},"axis":{"orient":"top","labels":false,"tickCount":20}},"y":{"field":"y","type":"quantitative","scale":{"domain":[-2000,2000],"nice":false},"axis":{"orient":"right","labels":false,"tickCount":20}},"angle":{"field":"a","type":"quantitative","scale":null},"size":{"field":"s","type":"quantitative","scale":null}}},
{"data":{"name":"t4"},"mark":{"type":"text","fontSize":15,"color":"#111"},"encoding":{"x":{"field":"x","type":"quantitative","scale":{"domain":[-2000,2000],"nice":false},"axis":null},"y":{"field":"y","type":"quantitative","scale":{"domain":[-2000,2000],"nice":false},"axis":null},"text":{"field":"t"},"angle":{"field":"a","type":"quantitative","scale":null}}}]},
{"width":295,"height":295,"resolve":{"axis":{"x":"independent","y":"independent"}},"layer":[
{"data":{"name":"p5"},"mark":{"type":"rect","height":19},"encoding":{"x":{"field":"a","type":"quantitative","scale":{"domain":[-2000,2000],"nice":false},"axis":{"tickCount":20,"labelExpr":"datum.value%1000==0?''+datum.value:''"}},"x2":{"field":"b"},"y":{"field":"y","type":"quantitative","scale":{"domain":[-2000,2000],"nice":false},"axis":{"tickCount":20,"labelFlush":true,"labelExpr":"datum.value%1000==0?''+datum.value:''"}},"color":{"field":"v","type":"ordinal","scale":{"domain":[1,2,3,4,5,6],"range":["#3f53a2","#6ca3da","#95c9a9","#f7e433","#d9752b","#cb2327"]},"legend":null}}},
{"data":{"name":"l5"},"mark":{"type":"line","interpolate":"cardinal","order":null,"stroke":"#222","strokeWidth":0.9},"encoding":{"x":{"field":"x","type":"quantitative","scale":{"domain":[-2000,2000],"nice":false},"axis":null},"y":{"field":"y","type":"quantitative","scale":{"domain":[-2000,2000],"nice":false},"axis":null},"detail":{"field":"c"}}},
{"data":{"name":"w"},"mark":{"type":"point","shape":"M0,-1L0,1M-0.35,-0.45L0,-1L0.35,-0.45","stroke":"#111","strokeWidth":0.9,"filled":false},"encoding":{"x":{"field":"x","type":"quantitative","scale":{"domain":[-2000,2000],"nice":false},"axis":{"orient":"top","labels":false,"tickCount":20}},"y":{"field":"y","type":"quantitative","scale":{"domain":[-2000,2000],"nice":false},"axis":{"orient":"right","labels":false,"tickCount":20}},"angle":{"field":"a","type":"quantitative","scale":null},"size":{"field":"s","type":"quantitative","scale":null}}},
{"data":{"name":"t5"},"mark":{"type":"text","fontSize":15,"color":"#111"},"encoding":{"x":{"field":"x","type":"quantitative","scale":{"domain":[-2000,2000],"nice":false},"axis":null},"y":{"field":"y","type":"quantitative","scale":{"domain":[-2000,2000],"nice":false},"axis":null},"text":{"field":"t"},"angle":{"field":"a","type":"quantitative","scale":null}}}]},
{"width":295,"height":295,"resolve":{"axis":{"x":"independent","y":"independent"}},"layer":[
{"data":{"name":"p6"},"mark":{"type":"rect","height":19},"encoding":{"x":{"field":"a","type":"quantitative","scale":{"domain":[-2000,2000],"nice":false},"axis":{"tickCount":20,"labelExpr":"datum.value%1000==0?''+datum.value:''"}},"x2":{"field":"b"},"y":{"field":"y","type":"quantitative","scale":{"domain":[-2000,2000],"nice":false},"axis":{"tickCount":20,"labelFlush":true,"labelExpr":"datum.value%1000==0?''+datum.value:''"}},"color":{"field":"v","type":"ordinal","scale":{"domain":[1,2,3,4,5,6],"range":["#3f53a2","#6ca3da","#95c9a9","#f7e433","#d9752b","#cb2327"]},"legend":null}}},
{"data":{"name":"l6"},"mark":{"type":"line","interpolate":"cardinal","order":null,"stroke":"#222","strokeWidth":0.9},"encoding":{"x":{"field":"x","type":"quantitative","scale":{"domain":[-2000,2000],"nice":false},"axis":null},"y":{"field":"y","type":"quantitative","scale":{"domain":[-2000,2000],"nice":false},"axis":null},"detail":{"field":"c"}}},
{"data":{"name":"w"},"mark":{"type":"point","shape":"M0,-1L0,1M-0.35,-0.45L0,-1L0.35,-0.45","stroke":"#111","strokeWidth":0.9,"filled":false},"encoding":{"x":{"field":"x","type":"quantitative","scale":{"domain":[-2000,2000],"nice":false},"axis":{"orient":"top","labels":false,"tickCount":20}},"y":{"field":"y","type":"quantitative","scale":{"domain":[-2000,2000],"nice":false},"axis":{"orient":"right","labels":false,"tickCount":20}},"angle":{"field":"a","type":"quantitative","scale":null},"size":{"field":"s","type":"quantitative","scale":null}}},
{"data":{"name":"t6"},"mark":{"type":"text","fontSize":15,"color":"#111"},"encoding":{"x":{"field":"x","type":"quantitative","scale":{"domain":[-2000,2000],"nice":false},"axis":null},"y":{"field":"y","type":"quantitative","scale":{"domain":[-2000,2000],"nice":false},"axis":null},"text":{"field":"t"},"angle":{"field":"a","type":"quantitative","scale":null}}}]},
{"width":295,"height":295,"resolve":{"axis":{"x":"independent","y":"independent"}},"layer":[
{"data":{"name":"p7"},"mark":{"type":"rect","height":19},"encoding":{"x":{"field":"a","type":"quantitative","scale":{"domain":[-2000,2000],"nice":false},"axis":{"tickCount":20,"labelExpr":"datum.value%1000==0?''+datum.value:''"}},"x2":{"field":"b"},"y":{"field":"y","type":"quantitative","scale":{"domain":[-2000,2000],"nice":false},"axis":{"tickCount":20,"labelFlush":true,"labelExpr":"datum.value%1000==0?''+datum.value:''"}},"color":{"field":"v","type":"ordinal","scale":{"domain":[1,2,3,4,5,6],"range":["#3f53a2","#6ca3da","#95c9a9","#f7e433","#d9752b","#cb2327"]},"legend":null}}},
{"data":{"name":"l7"},"mark":{"type":"line","interpolate":"cardinal","order":null,"stroke":"#222","strokeWidth":0.9},"encoding":{"x":{"field":"x","type":"quantitative","scale":{"domain":[-2000,2000],"nice":false},"axis":null},"y":{"field":"y","type":"quantitative","scale":{"domain":[-2000,2000],"nice":false},"axis":null},"detail":{"field":"c"}}},
{"data":{"name":"w"},"mark":{"type":"point","shape":"M0,-1L0,1M-0.35,-0.45L0,-1L0.35,-0.45","stroke":"#111","strokeWidth":0.9,"filled":false},"encoding":{"x":{"field":"x","type":"quantitative","scale":{"domain":[-2000,2000],"nice":false},"axis":{"orient":"top","labels":false,"tickCount":20}},"y":{"field":"y","type":"quantitative","scale":{"domain":[-2000,2000],"nice":false},"axis":{"orient":"right","labels":false,"tickCount":20}},"angle":{"field":"a","type":"quantitative","scale":null},"size":{"field":"s","type":"quantitative","scale":null}}},
{"data":{"name":"t7"},"mark":{"type":"text","fontSize":15,"color":"#111"},"encoding":{"x":{"field":"x","type":"quantitative","scale":{"domain":[-2000,2000],"nice":false},"axis":null},"y":{"field":"y","type":"quantitative","scale":{"domain":[-2000,2000],"nice":false},"axis":null},"text":{"field":"t"},"angle":{"field":"a","type":"quantitative","scale":null}}}]},
{"width":295,"height":295,"resolve":{"axis":{"x":"independent","y":"independent"}},"layer":[
{"data":{"name":"p8"},"mark":{"type":"rect","height":19},"encoding":{"x":{"field":"a","type":"quantitative","scale":{"domain":[-2000,2000],"nice":false},"axis":{"tickCount":20,"labelExpr":"datum.value%1000==0?''+datum.value:''"}},"x2":{"field":"b"},"y":{"field":"y","type":"quantitative","scale":{"domain":[-2000,2000],"nice":false},"axis":{"tickCount":20,"labelFlush":true,"labelExpr":"datum.value%1000==0?''+datum.value:''"}},"color":{"field":"v","type":"ordinal","scale":{"domain":[1,2,3,4,5,6],"range":["#3f53a2","#6ca3da","#95c9a9","#f7e433","#d9752b","#cb2327"]},"legend":null}}},
{"data":{"name":"l8"},"mark":{"type":"line","interpolate":"cardinal","order":null,"stroke":"#222","strokeWidth":0.9},"encoding":{"x":{"field":"x","type":"quantitative","scale":{"domain":[-2000,2000],"nice":false},"axis":null},"y":{"field":"y","type":"quantitative","scale":{"domain":[-2000,2000],"nice":false},"axis":null},"detail":{"field":"c"}}},
{"data":{"name":"w"},"mark":{"type":"point","shape":"M0,-1L0,1M-0.35,-0.45L0,-1L0.35,-0.45","stroke":"#111","strokeWidth":0.9,"filled":false},"encoding":{"x":{"field":"x","type":"quantitative","scale":{"domain":[-2000,2000],"nice":false},"axis":{"orient":"top","labels":false,"tickCount":20}},"y":{"field":"y","type":"quantitative","scale":{"domain":[-2000,2000],"nice":false},"axis":{"orient":"right","labels":false,"tickCount":20}},"angle":{"field":"a","type":"quantitative","scale":null},"size":{"field":"s","type":"quantitative","scale":null}}},
{"data":{"name":"t8"},"mark":{"type":"text","fontSize":15,"color":"#111"},"encoding":{"x":{"field":"x","type":"quantitative","scale":{"domain":[-2000,2000],"nice":false},"axis":null},"y":{"field":"y","type":"quantitative","scale":{"domain":[-2000,2000],"nice":false},"axis":null},"text":{"field":"t"},"angle":{"field":"a","type":"quantitative","scale":null}}}]},
{"width":295,"height":295,"resolve":{"axis":{"x":"independent","y":"independent"}},"layer":[
{"data":{"name":"p9"},"mark":{"type":"rect","height":19},"encoding":{"x":{"field":"a","type":"quantitative","scale":{"domain":[-2000,2000],"nice":false},"axis":{"tickCount":20,"labelExpr":"datum.value%1000==0?''+datum.value:''"}},"x2":{"field":"b"},"y":{"field":"y","type":"quantitative","scale":{"domain":[-2000,2000],"nice":false},"axis":{"tickCount":20,"labelFlush":true,"labelExpr":"datum.value%1000==0?''+datum.value:''"}},"color":{"field":"v","type":"ordinal","scale":{"domain":[1,2,3,4,5,6],"range":["#3f53a2","#6ca3da","#95c9a9","#f7e433","#d9752b","#cb2327"]},"legend":null}}},
{"data":{"name":"l9"},"mark":{"type":"line","interpolate":"cardinal","order":null,"stroke":"#222","strokeWidth":0.9},"encoding":{"x":{"field":"x","type":"quantitative","scale":{"domain":[-2000,2000],"nice":false},"axis":null},"y":{"field":"y","type":"quantitative","scale":{"domain":[-2000,2000],"nice":false},"axis":null},"detail":{"field":"c"}}},
{"data":{"name":"w"},"mark":{"type":"point","shape":"M0,-1L0,1M-0.35,-0.45L0,-1L0.35,-0.45","stroke":"#111","strokeWidth":0.9,"filled":false},"encoding":{"x":{"field":"x","type":"quantitative","scale":{"domain":[-2000,2000],"nice":false},"axis":{"orient":"top","labels":false,"tickCount":20}},"y":{"field":"y","type":"quantitative","scale":{"domain":[-2000,2000],"nice":false},"axis":{"orient":"right","labels":false,"tickCount":20}},"angle":{"field":"a","type":"quantitative","scale":null},"size":{"field":"s","type":"quantitative","scale":null}}},
{"data":{"name":"t9"},"mark":{"type":"text","fontSize":15,"color":"#111"},"encoding":{"x":{"field":"x","type":"quantitative","scale":{"domain":[-2000,2000],"nice":false},"axis":null},"y":{"field":"y","type":"quantitative","scale":{"domain":[-2000,2000],"nice":false},"axis":null},"text":{"field":"t"},"angle":{"field":"a","type":"quantitative","scale":null}}}]},
{"width":295,"height":19,"layer":[
{"data":{"name":"bar"},"mark":"rect","encoding":{"x":{"field":"a","type":"quantitative","scale":{"domain":[52,347],"nice":false,"zero":false},"axis":null},"x2":{"field":"b"},"y":{"field":"y","type":"quantitative","scale":{"domain":[1427,1408],"nice":false,"zero":false},"axis":null},"y2":{"field":"y2"},"color":{"field":"v","type":"ordinal","scale":{"domain":[1,2,3,4,5,6],"range":["#3f53a2","#6ca3da","#95c9a9","#f7e433","#d9752b","#cb2327"]},"legend":null}}},
{"data":{"name":"barticks"},"mark":{"type":"tick","orient":"vertical","size":7,"color":"#666","thickness":1},"encoding":{"x":{"field":"x","type":"quantitative","scale":{"domain":[52,347],"nice":false,"zero":false},"axis":null},"y":{"field":"y","type":"quantitative","scale":{"domain":[1427,1408],"nice":false,"zero":false},"axis":null}}},
{"data":{"name":"barticks"},"mark":{"type":"text","fontSize":16,"dy":18,"color":"#222"},"encoding":{"x":{"field":"x","type":"quantitative","scale":{"domain":[52,347],"nice":false,"zero":false},"axis":null},"y":{"field":"y","type":"quantitative","scale":{"domain":[1427,1408],"nice":false,"zero":false},"axis":null},"text":{"field":"t"}}},
{"data":{"name":"texts"},"mark":{"type":"text","color":"#222"},"encoding":{"x":{"field":"x","type":"quantitative","scale":{"domain":[52,347],"nice":false,"zero":false},"axis":null},"y":{"field":"y","type":"quantitative","scale":{"domain":[1427,1408],"nice":false,"zero":false},"axis":null},"text":{"field":"t"},"size":{"field":"s","type":"quantitative","scale":null},"font":{"field":"f"},"angle":{"field":"a","type":"quantitative","scale":null}}},
{"data":{"values":[{"x":1197,"y":1155,"y2":345}]},"mark":{"type":"rule","strokeWidth":6,"color":"#222"},"encoding":{"x":{"field":"x","type":"quantitative","scale":{"domain":[52,347],"nice":false,"zero":false},"axis":null},"y":{"field":"y","type":"quantitative","scale":{"domain":[1427,1408],"nice":false,"zero":false},"axis":null},"y2":{"field":"y2"}}},
{"data":{"values":[{"x":197,"x2":1003,"y":1368}]},"mark":{"type":"rule","strokeWidth":6,"color":"#222"},"encoding":{"x":{"field":"x","type":"quantitative","scale":{"domain":[52,347],"nice":false,"zero":false},"axis":null},"x2":{"field":"x2"},"y":{"field":"y","type":"quantitative","scale":{"domain":[1427,1408],"nice":false,"zero":false},"axis":null}}},
{"data":{"values":[{"x":1197,"y":346,"a":0},{"x":1008,"y":1368,"a":90}]},"mark":{"type":"point","shape":"M0,-0.8L1,0.8L0,0.45L-1,0.8Z","size":1600,"filled":true,"color":"#222","opacity":1},"encoding":{"x":{"field":"x","type":"quantitative","scale":{"domain":[52,347],"nice":false,"zero":false},"axis":null},"y":{"field":"y","type":"quantitative","scale":{"domain":[1427,1408],"nice":false,"zero":false},"axis":null},"angle":{"field":"a","type":"quantitative","scale":null}}}]}
]}
